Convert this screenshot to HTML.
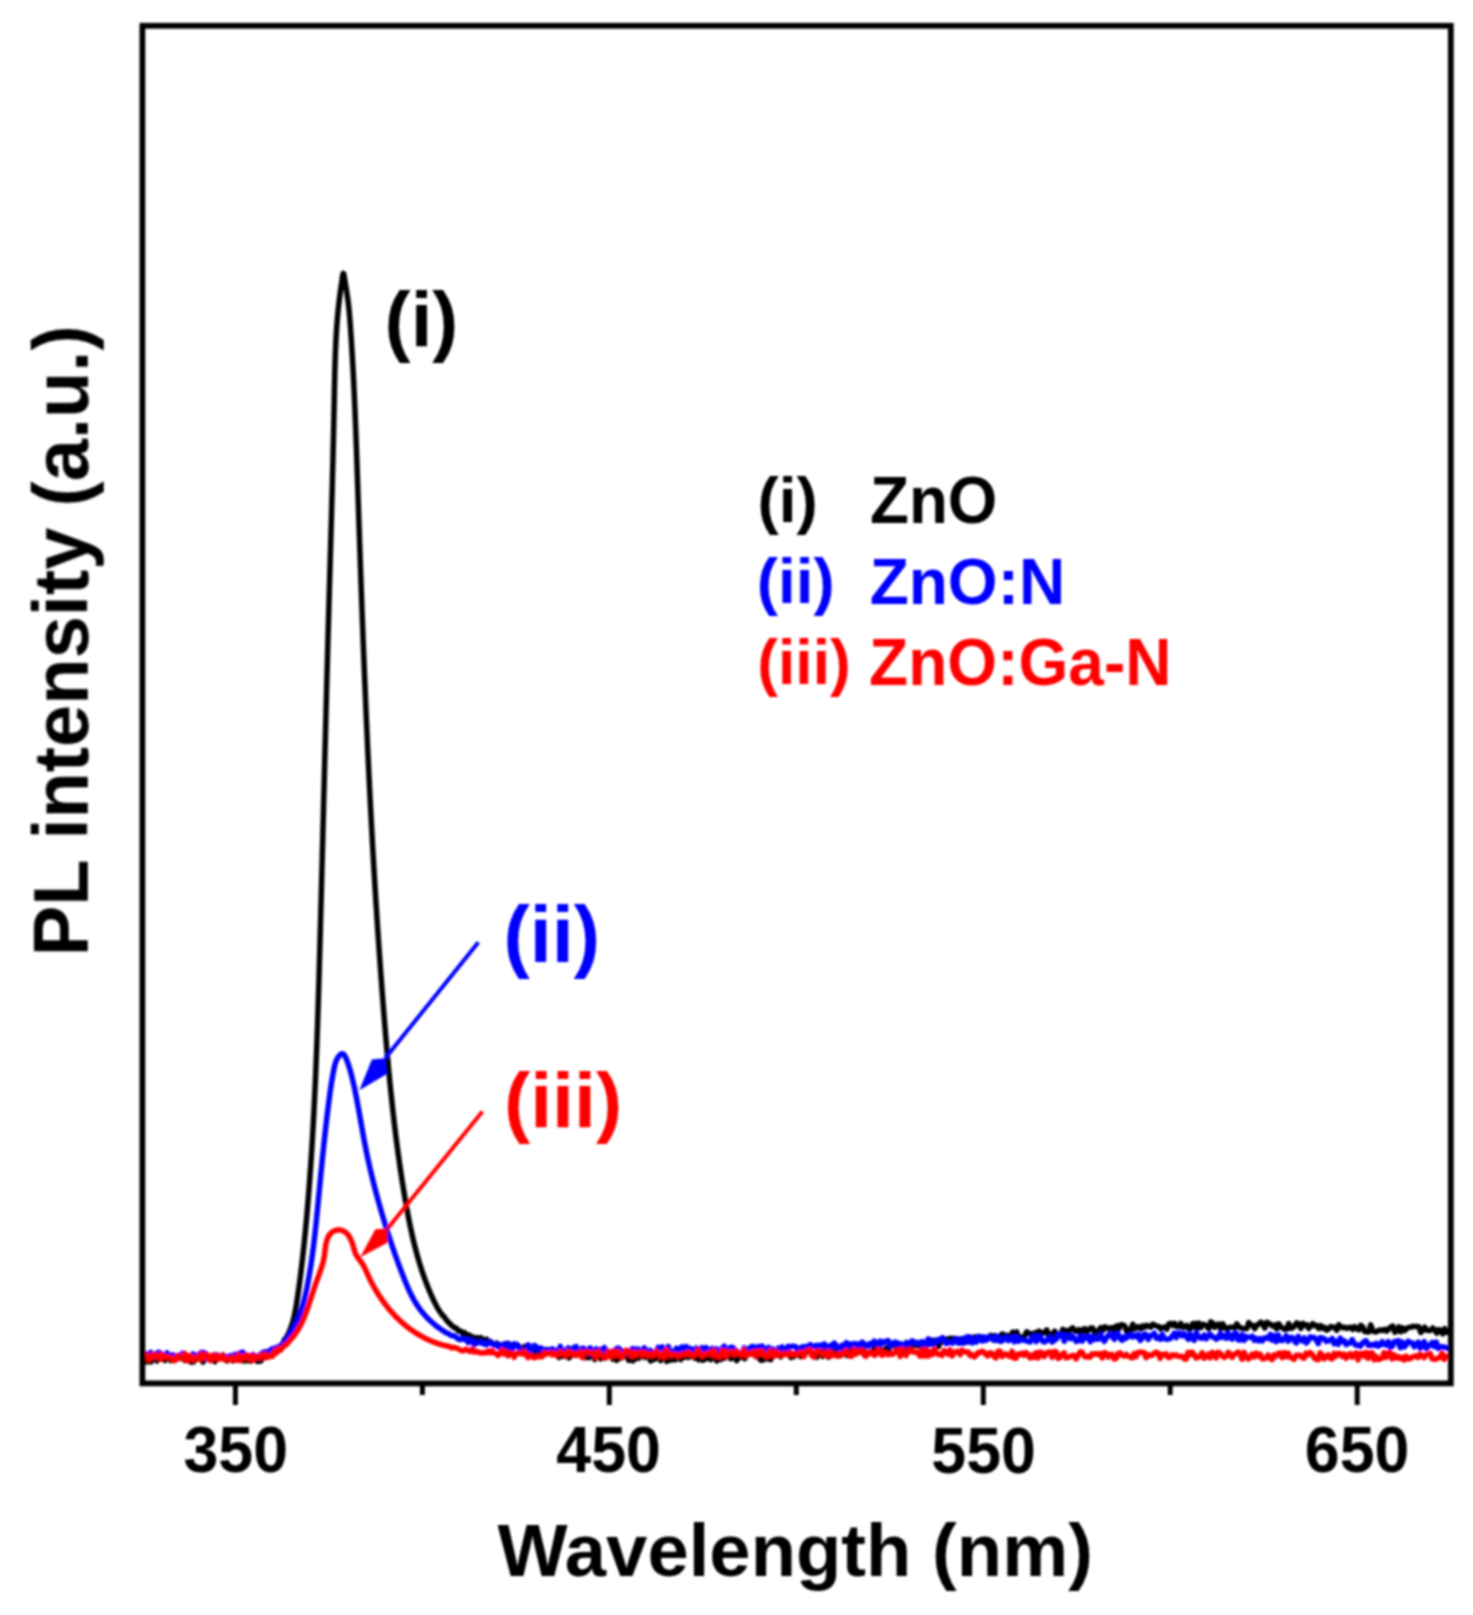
<!DOCTYPE html>
<html><head><meta charset="utf-8"><title>PL spectra</title>
<style>html,body{margin:0;padding:0;background:#fff;width:1473px;height:1615px;overflow:hidden}svg{display:block}</style>
</head><body>
<svg width="1473" height="1615" viewBox="0 0 1473 1615">
<defs><filter id="soft" x="0" y="0" width="1473" height="1615" filterUnits="userSpaceOnUse"><feGaussianBlur stdDeviation="1"/></filter></defs>
<rect width="1473" height="1615" fill="#fff"/>
<g filter="url(#soft)">
<g fill="none" stroke-linejoin="round" stroke-linecap="round">
<path d="M144.99,1358.64 L146.99,1361.94 L148.99,1355.79 L150.99,1361.88 L152.98,1357.02 L154.98,1357.86 L156.98,1360.93 L158.98,1357.74 L160.98,1358.81 L162.98,1354.84 L164.98,1360.36 L166.98,1358.73 L168.98,1357.16 L170.98,1360.66 L172.98,1356.98 L174.98,1358.14 L176.98,1355.72 L178.98,1357.78 L180.98,1356.27 L182.98,1356.74 L184.98,1360.46 L186.98,1356.90 L188.98,1358.46 L190.98,1362.24 L192.98,1362.10 L194.98,1360.30 L196.98,1358.90 L198.98,1356.89 L200.98,1356.00 L202.98,1362.14 L204.98,1358.68 L206.98,1355.62 L208.98,1359.45 L210.98,1360.59 L212.98,1359.31 L214.98,1361.58 L216.98,1354.88 L218.98,1358.55 L220.98,1357.99 L222.98,1354.94 L224.99,1359.31 L226.99,1360.90 L228.99,1358.91 L230.99,1356.38 L232.99,1360.80 L234.99,1358.31 L236.99,1358.36 L239.00,1360.25 L241.00,1355.73 L243.00,1360.92 L245.00,1359.99 L247.00,1360.87 L248.99,1356.43 L250.99,1361.12 L252.98,1356.48 L254.97,1355.60 L256.96,1361.36 L258.95,1361.19 L260.93,1360.99 L262.91,1357.46 L264.89,1355.36 L266.87,1352.57 L268.84,1356.50 L270.81,1355.88 L272.77,1355.17 L274.73,1350.21 L276.69,1348.33 L278.64,1348.44 L280.58,1346.76 L282.51,1344.54 L284.43,1339.74 L286.33,1337.37 L288.20,1334.13 L290.05,1329.73 L290.42,1328.80 L290.77,1327.88 L291.12,1326.94 L291.45,1326.01 L291.77,1325.07 L292.07,1324.13 L292.37,1323.18 L292.65,1322.23 L292.93,1321.28 L293.19,1320.33 L293.45,1319.37 L293.69,1318.41 L293.93,1317.45 L294.16,1316.48 L294.38,1315.52 L294.59,1314.55 L294.80,1313.57 L294.99,1312.60 L295.19,1311.63 L295.37,1310.65 L295.55,1309.67 L295.73,1308.69 L295.90,1307.71 L296.07,1306.73 L296.23,1305.75 L296.39,1304.76 L296.54,1303.78 L296.70,1302.79 L296.85,1301.81 L297.00,1300.82 L297.14,1299.83 L297.29,1298.85 L297.43,1297.86 L297.58,1296.87 L297.72,1295.88 L297.86,1294.89 L298.01,1293.91 L298.15,1292.92 L298.29,1291.93 L298.43,1290.94 L298.56,1289.95 L298.70,1288.96 L298.84,1287.97 L298.97,1286.98 L299.11,1285.99 L299.24,1285.00 L299.37,1284.01 L299.51,1283.02 L299.64,1282.03 L299.77,1281.04 L299.90,1280.05 L300.03,1279.06 L300.16,1278.07 L300.28,1277.08 L300.41,1276.09 L300.54,1275.10 L300.66,1274.11 L300.78,1273.11 L300.91,1272.12 L301.03,1271.13 L301.15,1270.14 L301.27,1269.15 L301.39,1268.15 L301.51,1267.16 L301.63,1266.17 L301.75,1265.18 L301.87,1264.18 L301.98,1263.19 L302.10,1262.20 L302.22,1261.20 L302.33,1260.21 L302.44,1259.22 L302.56,1258.22 L302.67,1257.23 L302.78,1256.23 L302.89,1255.24 L303.00,1254.25 L303.11,1253.25 L303.22,1252.26 L303.33,1251.26 L303.44,1250.27 L303.55,1249.27 L303.65,1248.28 L303.76,1247.29 L303.86,1246.29 L303.97,1245.30 L304.07,1244.30 L304.17,1243.30 L304.28,1242.31 L304.38,1241.31 L304.48,1240.32 L304.58,1239.32 L304.68,1238.33 L304.78,1237.33 L304.88,1236.34 L304.98,1235.34 L305.08,1234.34 L305.17,1233.35 L305.27,1232.35 L305.37,1231.36 L305.46,1230.36 L305.56,1229.36 L305.65,1228.37 L305.74,1227.37 L305.84,1226.37 L305.93,1225.38 L306.02,1224.38 L306.12,1223.38 L306.21,1222.39 L306.30,1221.39 L306.39,1220.39 L306.48,1219.40 L306.57,1218.40 L306.66,1217.40 L306.74,1216.41 L306.83,1215.41 L306.92,1214.41 L307.01,1213.41 L307.09,1212.42 L307.18,1211.42 L307.26,1210.42 L307.35,1209.43 L307.43,1208.43 L307.52,1207.43 L307.60,1206.43 L307.68,1205.44 L307.77,1204.44 L307.85,1203.44 L307.93,1202.44 L308.01,1201.45 L308.10,1200.45 L308.18,1199.45 L308.26,1198.45 L308.34,1197.46 L308.42,1196.46 L308.50,1195.46 L308.57,1194.46 L308.65,1193.47 L308.73,1192.47 L308.81,1191.47 L308.89,1190.47 L308.96,1189.48 L309.04,1188.48 L309.12,1187.48 L309.19,1186.48 L309.27,1185.49 L309.34,1184.49 L309.42,1183.49 L309.49,1182.49 L309.57,1181.50 L309.64,1180.50 L309.71,1179.50 L309.78,1178.50 L309.86,1177.50 L309.93,1176.51 L310.00,1175.51 L310.07,1174.51 L310.14,1173.51 L310.21,1172.52 L310.28,1171.52 L310.35,1170.52 L310.42,1169.52 L310.49,1168.52 L310.56,1167.53 L310.63,1166.53 L310.70,1165.53 L310.77,1164.53 L310.83,1163.54 L310.90,1162.54 L310.97,1161.54 L311.04,1160.54 L311.10,1159.54 L311.17,1158.55 L311.23,1157.55 L311.30,1156.55 L311.36,1155.55 L311.43,1154.55 L311.49,1153.56 L311.56,1152.56 L311.62,1151.56 L311.68,1150.56 L311.74,1149.56 L311.81,1148.57 L311.87,1147.57 L311.93,1146.57 L311.99,1145.57 L312.05,1144.57 L312.12,1143.58 L312.18,1142.58 L312.24,1141.58 L312.30,1140.58 L312.36,1139.58 L312.42,1138.59 L312.47,1137.59 L312.53,1136.59 L312.59,1135.59 L312.65,1134.59 L312.71,1133.59 L312.77,1132.60 L312.82,1131.60 L312.88,1130.60 L312.94,1129.60 L312.99,1128.60 L313.05,1127.61 L313.10,1126.61 L313.16,1125.61 L313.22,1124.61 L313.27,1123.61 L313.33,1122.61 L313.38,1121.62 L313.43,1120.62 L313.49,1119.62 L313.54,1118.62 L313.59,1117.62 L313.65,1116.62 L313.70,1115.63 L313.75,1114.63 L313.80,1113.63 L313.86,1112.63 L313.91,1111.63 L313.96,1110.63 L314.01,1109.64 L314.06,1108.64 L314.11,1107.64 L314.16,1106.64 L314.21,1105.64 L314.26,1104.64 L314.31,1103.65 L314.36,1102.65 L314.41,1101.65 L314.46,1100.65 L314.51,1099.65 L314.56,1098.65 L314.60,1097.65 L314.65,1096.66 L314.70,1095.66 L314.75,1094.66 L314.79,1093.66 L314.84,1092.66 L314.89,1091.66 L314.93,1090.66 L314.98,1089.67 L315.03,1088.67 L315.07,1087.67 L315.12,1086.67 L315.16,1085.67 L315.21,1084.67 L315.25,1083.67 L315.30,1082.68 L315.34,1081.68 L315.38,1080.68 L315.43,1079.68 L315.47,1078.68 L315.52,1077.68 L315.56,1076.68 L315.60,1075.69 L315.64,1074.69 L315.69,1073.69 L315.73,1072.69 L315.77,1071.69 L315.81,1070.69 L315.85,1069.69 L315.90,1068.69 L315.94,1067.70 L315.98,1066.70 L316.02,1065.70 L316.06,1064.70 L316.10,1063.70 L316.14,1062.70 L316.18,1061.70 L316.22,1060.70 L316.26,1059.71 L316.30,1058.71 L316.34,1057.71 L316.38,1056.71 L316.42,1055.71 L316.46,1054.71 L316.50,1053.71 L316.53,1052.71 L316.57,1051.71 L316.61,1050.72 L316.65,1049.72 L316.69,1048.72 L316.72,1047.72 L316.76,1046.72 L316.80,1045.72 L316.83,1044.72 L316.87,1043.72 L316.91,1042.72 L316.94,1041.73 L316.98,1040.73 L317.02,1039.73 L317.05,1038.73 L317.09,1037.73 L317.12,1036.73 L317.16,1035.73 L317.20,1034.73 L317.23,1033.73 L317.27,1032.73 L317.30,1031.74 L317.34,1030.74 L317.37,1029.74 L317.40,1028.74 L317.44,1027.74 L317.47,1026.74 L317.51,1025.74 L317.54,1024.74 L317.58,1023.74 L317.61,1022.74 L317.64,1021.74 L317.68,1020.75 L317.71,1019.75 L317.74,1018.75 L317.77,1017.75 L317.81,1016.75 L317.84,1015.75 L317.87,1014.75 L317.91,1013.75 L317.94,1012.75 L317.97,1011.75 L318.00,1010.75 L318.03,1009.76 L318.07,1008.76 L318.10,1007.76 L318.13,1006.76 L318.16,1005.76 L318.19,1004.76 L318.22,1003.76 L318.25,1002.76 L318.29,1001.76 L318.32,1000.76 L318.35,999.76 L318.38,998.76 L318.41,997.77 L318.44,996.77 L318.47,995.77 L318.50,994.77 L318.53,993.77 L318.56,992.77 L318.59,991.77 L318.62,990.77 L318.65,989.77 L318.68,988.77 L318.71,987.77 L318.74,986.77 L318.77,985.77 L318.80,984.77 L318.83,983.78 L318.86,982.78 L318.89,981.78 L318.92,980.78 L318.94,979.78 L318.97,978.78 L319.00,977.78 L319.03,976.78 L319.06,975.78 L319.09,974.78 L319.12,973.78 L319.15,972.78 L319.17,971.78 L319.20,970.78 L319.23,969.78 L319.26,968.79 L319.29,967.79 L319.32,966.79 L319.34,965.79 L319.37,964.79 L319.40,963.79 L319.43,962.79 L319.46,961.79 L319.48,960.79 L319.51,959.79 L319.54,958.79 L319.57,957.79 L319.60,956.79 L319.62,955.79 L319.65,954.79 L319.68,953.79 L319.71,952.79 L319.73,951.79 L319.76,950.80 L319.79,949.80 L319.82,948.80 L319.84,947.80 L319.87,946.80 L319.90,945.80 L319.93,944.80 L319.95,943.80 L319.98,942.80 L320.01,941.80 L320.04,940.80 L320.06,939.80 L320.09,938.80 L320.12,937.80 L320.14,936.80 L320.17,935.80 L320.20,934.80 L320.23,933.80 L320.25,932.80 L320.28,931.80 L320.31,930.80 L320.33,929.81 L320.36,928.81 L320.39,927.81 L320.42,926.81 L320.44,925.81 L320.47,924.81 L320.50,923.81 L320.52,922.81 L320.55,921.81 L320.58,920.81 L320.60,919.81 L320.63,918.81 L320.66,917.81 L320.68,916.81 L320.71,915.81 L320.74,914.81 L320.76,913.81 L320.79,912.81 L320.82,911.81 L320.84,910.81 L320.87,909.81 L320.90,908.81 L320.93,907.81 L320.95,906.81 L320.98,905.81 L321.00,904.81 L321.03,903.82 L321.06,902.82 L321.08,901.82 L321.11,900.82 L321.14,899.82 L321.16,898.82 L321.19,897.82 L321.22,896.82 L321.24,895.82 L321.27,894.82 L321.30,893.82 L321.32,892.82 L321.35,891.82 L321.38,890.82 L321.40,889.82 L321.43,888.82 L321.46,887.82 L321.48,886.82 L321.51,885.82 L321.53,884.82 L321.56,883.82 L321.59,882.82 L321.61,881.82 L321.64,880.82 L321.67,879.82 L321.69,878.82 L321.72,877.82 L321.74,876.82 L321.77,875.82 L321.80,874.82 L321.82,873.82 L321.85,872.82 L321.88,871.82 L321.90,870.82 L321.93,869.82 L321.95,868.83 L321.98,867.83 L322.01,866.83 L322.03,865.83 L322.06,864.83 L322.09,863.83 L322.11,862.83 L322.14,861.83 L322.16,860.83 L322.19,859.83 L322.22,858.83 L322.24,857.83 L322.27,856.83 L322.29,855.83 L322.32,854.83 L322.35,853.83 L322.37,852.83 L322.40,851.83 L322.42,850.83 L322.45,849.83 L322.48,848.83 L322.50,847.83 L322.53,846.83 L322.55,845.83 L322.58,844.83 L322.61,843.83 L322.63,842.83 L322.66,841.83 L322.68,840.83 L322.71,839.83 L322.74,838.83 L322.76,837.83 L322.79,836.83 L322.81,835.83 L322.84,834.83 L322.86,833.83 L322.89,832.83 L322.92,831.83 L322.94,830.83 L322.97,829.83 L322.99,828.83 L323.02,827.83 L323.05,826.83 L323.07,825.83 L323.10,824.83 L323.12,823.83 L323.15,822.83 L323.17,821.83 L323.20,820.83 L323.23,819.83 L323.25,818.83 L323.28,817.84 L323.30,816.84 L323.33,815.84 L323.36,814.84 L323.38,813.84 L323.41,812.84 L323.43,811.84 L323.46,810.84 L323.48,809.84 L323.51,808.84 L323.54,807.84 L323.56,806.84 L323.59,805.84 L323.61,804.84 L323.64,803.84 L323.67,802.84 L323.69,801.84 L323.72,800.84 L323.74,799.84 L323.77,798.84 L323.79,797.84 L323.82,796.84 L323.85,795.84 L323.87,794.84 L323.90,793.84 L323.92,792.84 L323.95,791.84 L323.97,790.84 L324.00,789.84 L324.03,788.84 L324.05,787.84 L324.08,786.84 L324.10,785.84 L324.13,784.84 L324.16,783.84 L324.18,782.84 L324.21,781.84 L324.23,780.84 L324.26,779.84 L324.28,778.84 L324.31,777.84 L324.34,776.84 L324.36,775.84 L324.39,774.84 L324.41,773.84 L324.44,772.84 L324.46,771.84 L324.49,770.84 L324.52,769.84 L324.54,768.84 L324.57,767.84 L324.59,766.84 L324.62,765.84 L324.65,764.84 L324.67,763.84 L324.70,762.84 L324.72,761.84 L324.75,760.84 L324.78,759.84 L324.80,758.84 L324.83,757.84 L324.85,756.84 L324.88,755.84 L324.90,754.84 L324.93,753.84 L324.96,752.84 L324.98,751.84 L325.01,750.85 L325.03,749.85 L325.06,748.85 L325.09,747.85 L325.11,746.85 L325.14,745.85 L325.16,744.85 L325.19,743.85 L325.22,742.85 L325.24,741.85 L325.27,740.85 L325.29,739.85 L325.32,738.85 L325.35,737.85 L325.37,736.85 L325.40,735.85 L325.42,734.85 L325.45,733.85 L325.48,732.85 L325.50,731.85 L325.53,730.85 L325.55,729.85 L325.58,728.85 L325.61,727.85 L325.63,726.85 L325.66,725.85 L325.68,724.85 L325.71,723.85 L325.74,722.85 L325.76,721.85 L325.79,720.85 L325.82,719.85 L325.84,718.85 L325.87,717.85 L325.89,716.85 L325.92,715.85 L325.95,714.85 L325.97,713.85 L326.00,712.85 L326.03,711.85 L326.05,710.85 L326.08,709.85 L326.10,708.85 L326.13,707.85 L326.16,706.85 L326.18,705.85 L326.21,704.85 L326.24,703.85 L326.26,702.85 L326.29,701.85 L326.32,700.85 L326.34,699.86 L326.37,698.86 L326.39,697.86 L326.42,696.86 L326.45,695.86 L326.47,694.86 L326.50,693.86 L326.53,692.86 L326.55,691.86 L326.58,690.86 L326.61,689.86 L326.63,688.86 L326.66,687.86 L326.69,686.86 L326.71,685.86 L326.74,684.86 L326.77,683.86 L326.79,682.86 L326.82,681.86 L326.85,680.86 L326.87,679.86 L326.90,678.86 L326.93,677.86 L326.95,676.86 L326.98,675.86 L327.01,674.86 L327.03,673.86 L327.06,672.86 L327.09,671.86 L327.11,670.86 L327.14,669.86 L327.17,668.86 L327.20,667.86 L327.22,666.86 L327.25,665.87 L327.28,664.87 L327.30,663.87 L327.33,662.87 L327.36,661.87 L327.38,660.87 L327.41,659.87 L327.44,658.87 L327.47,657.87 L327.49,656.87 L327.52,655.87 L327.55,654.87 L327.57,653.87 L327.60,652.87 L327.63,651.87 L327.66,650.87 L327.68,649.87 L327.71,648.87 L327.74,647.87 L327.77,646.87 L327.79,645.87 L327.82,644.87 L327.85,643.87 L327.87,642.87 L327.90,641.87 L327.93,640.87 L327.96,639.88 L327.98,638.88 L328.01,637.88 L328.04,636.88 L328.07,635.88 L328.10,634.88 L328.12,633.88 L328.15,632.88 L328.18,631.88 L328.21,630.88 L328.23,629.88 L328.26,628.88 L328.29,627.88 L328.32,626.88 L328.34,625.88 L328.37,624.88 L328.40,623.88 L328.43,622.88 L328.46,621.88 L328.48,620.88 L328.51,619.88 L328.54,618.89 L328.57,617.89 L328.60,616.89 L328.62,615.89 L328.65,614.89 L328.68,613.89 L328.71,612.89 L328.74,611.89 L328.76,610.89 L328.79,609.89 L328.82,608.89 L328.85,607.89 L328.88,606.89 L328.91,605.89 L328.93,604.89 L328.96,603.89 L328.99,602.89 L329.02,601.90 L329.05,600.90 L329.08,599.90 L329.10,598.90 L329.13,597.90 L329.16,596.90 L329.19,595.90 L329.22,594.90 L329.25,593.90 L329.28,592.90 L329.30,591.90 L329.33,590.90 L329.36,589.90 L329.39,588.90 L329.42,587.90 L329.45,586.90 L329.48,585.91 L329.50,584.91 L329.53,583.91 L329.56,582.91 L329.59,581.91 L329.62,580.91 L329.65,579.91 L329.68,578.91 L329.70,577.91 L329.73,576.91 L329.76,575.91 L329.79,574.91 L329.82,573.91 L329.85,572.91 L329.88,571.91 L329.90,570.92 L329.93,569.92 L329.96,568.92 L329.99,567.92 L330.02,566.92 L330.05,565.92 L330.08,564.92 L330.10,563.92 L330.13,562.92 L330.16,561.92 L330.19,560.92 L330.22,559.92 L330.25,558.92 L330.28,557.92 L330.30,556.92 L330.33,555.93 L330.36,554.93 L330.39,553.93 L330.42,552.93 L330.45,551.93 L330.48,550.93 L330.50,549.93 L330.53,548.93 L330.56,547.93 L330.59,546.93 L330.62,545.93 L330.65,544.93 L330.67,543.93 L330.70,542.93 L330.73,541.93 L330.76,540.94 L330.79,539.94 L330.82,538.94 L330.84,537.94 L330.87,536.94 L330.90,535.94 L330.93,534.94 L330.96,533.94 L330.98,532.94 L331.01,531.94 L331.04,530.94 L331.07,529.94 L331.10,528.94 L331.12,527.94 L331.15,526.94 L331.18,525.94 L331.21,524.95 L331.24,523.95 L331.26,522.95 L331.29,521.95 L331.32,520.95 L331.35,519.95 L331.38,518.95 L331.40,517.95 L331.43,516.95 L331.46,515.95 L331.49,514.95 L331.51,513.95 L331.54,512.95 L331.57,511.95 L331.60,510.95 L331.62,509.95 L331.65,508.96 L331.68,507.96 L331.70,506.96 L331.73,505.96 L331.76,504.96 L331.79,503.96 L331.81,502.96 L331.84,501.96 L331.87,500.96 L331.89,499.96 L331.92,498.96 L331.95,497.96 L331.97,496.96 L332.00,495.96 L332.03,494.96 L332.05,493.96 L332.08,492.96 L332.11,491.96 L332.13,490.96 L332.16,489.96 L332.19,488.97 L332.21,487.97 L332.24,486.97 L332.27,485.97 L332.29,484.97 L332.32,483.97 L332.34,482.97 L332.37,481.97 L332.40,480.97 L332.42,479.97 L332.45,478.97 L332.47,477.97 L332.50,476.97 L332.52,475.97 L332.55,474.97 L332.58,473.97 L332.60,472.97 L332.63,471.97 L332.65,470.97 L332.68,469.97 L332.70,468.97 L332.73,467.97 L332.75,466.97 L332.78,465.97 L332.80,464.97 L332.83,463.97 L332.85,462.97 L332.88,461.97 L332.90,460.98 L332.93,459.98 L332.95,458.98 L332.97,457.98 L333.00,456.98 L333.02,455.98 L333.05,454.98 L333.07,453.98 L333.10,452.98 L333.12,451.98 L333.14,450.98 L333.17,449.98 L333.19,448.98 L333.21,447.98 L333.24,446.98 L333.26,445.98 L333.28,444.98 L333.31,443.98 L333.33,442.98 L333.35,441.98 L333.38,440.98 L333.40,439.98 L333.42,438.98 L333.45,437.98 L333.47,436.98 L333.49,435.98 L333.51,434.98 L333.54,433.98 L333.56,432.98 L333.58,431.98 L333.60,430.98 L333.63,429.98 L333.65,428.98 L333.67,427.98 L333.69,426.98 L333.71,425.98 L333.74,424.98 L333.76,423.98 L333.78,422.98 L333.80,421.98 L333.82,420.98 L333.84,419.98 L333.86,418.98 L333.88,417.98 L333.91,416.98 L333.93,415.98 L333.95,414.98 L333.97,413.98 L333.99,412.97 L334.01,411.97 L334.03,410.97 L334.05,409.97 L334.07,408.97 L334.09,407.97 L334.11,406.97 L334.13,405.97 L334.15,404.97 L334.17,403.97 L334.19,402.97 L334.21,401.97 L334.23,400.97 L334.24,399.97 L334.26,398.97 L334.28,397.97 L334.30,396.97 L334.32,395.97 L334.34,394.97 L334.36,393.97 L334.38,392.97 L334.40,391.97 L334.41,390.97 L334.43,389.97 L334.45,388.96 L334.47,387.96 L334.49,386.96 L334.51,385.96 L334.53,384.96 L334.55,383.96 L334.57,382.96 L334.59,381.96 L334.61,380.96 L334.63,379.96 L334.65,378.96 L334.68,377.96 L334.70,376.96 L334.72,375.96 L334.74,374.96 L334.77,373.96 L334.79,372.96 L334.81,371.96 L334.84,370.96 L334.86,369.96 L334.89,368.96 L334.92,367.96 L334.94,366.96 L334.97,365.96 L335.00,364.96 L335.03,363.96 L335.06,362.96 L335.09,361.97 L335.12,360.97 L335.15,359.97 L335.18,358.97 L335.22,357.97 L335.25,356.97 L335.29,355.97 L335.32,354.97 L335.36,353.97 L335.39,352.98 L335.43,351.98 L335.47,350.98 L335.51,349.98 L335.55,348.98 L335.60,347.98 L335.64,346.99 L335.68,345.99 L335.73,344.99 L335.78,343.99 L335.82,343.00 L335.87,342.00 L335.92,341.00 L335.97,340.01 L336.02,339.01 L336.08,338.01 L336.13,337.02 L336.19,336.02 L336.25,335.02 L336.30,334.03 L336.36,333.03 L336.42,332.04 L336.49,331.04 L336.55,330.04 L336.62,329.05 L336.68,328.05 L336.75,327.06 L336.82,326.06 L336.89,325.07 L336.96,324.08 L337.04,323.08 L337.11,322.09 L337.19,321.10 L337.27,320.10 L337.35,319.11 L337.43,318.12 L337.52,317.13 L337.60,316.14 L337.69,315.15 L337.78,314.16 L337.87,313.17 L337.96,312.19 L338.06,311.20 L338.15,310.21 L338.25,309.23 L338.35,308.25 L338.45,307.26 L338.56,306.28 L338.66,305.30 L338.77,304.32 L338.88,303.34 L338.99,302.37 L339.10,301.39 L339.22,300.42 L339.34,299.44 L339.46,298.47 L339.58,297.50 L339.70,296.53 L339.83,295.56 L339.96,294.60 L340.09,293.63 L340.22,292.67 L340.35,291.71 L340.49,290.75 L340.63,289.79 L340.77,288.83 L340.92,287.86 L341.06,286.88 L341.21,285.87 L341.37,284.83 L341.52,283.76 L341.68,282.64 L341.84,281.48 L342.01,280.25 L342.18,278.97 L342.35,277.67 L342.53,276.43 L342.72,275.31 L342.90,274.39 L343.09,273.74 L343.29,273.43 L343.49,273.52 L343.70,273.99 L343.90,274.77 L344.11,275.78 L344.32,276.97 L344.53,278.25 L344.73,279.55 L344.93,280.83 L345.12,282.04 L345.31,283.21 L345.50,284.33 L345.68,285.42 L345.85,286.47 L346.03,287.49 L346.19,288.50 L346.36,289.48 L346.52,290.45 L346.67,291.42 L346.82,292.38 L346.97,293.34 L347.12,294.30 L347.26,295.25 L347.39,296.20 L347.53,297.14 L347.66,298.09 L347.79,299.03 L347.91,299.97 L348.03,300.91 L348.15,301.85 L348.26,302.80 L348.38,303.74 L348.49,304.68 L348.59,305.63 L348.70,306.58 L348.80,307.53 L348.90,308.48 L349.00,309.44 L349.09,310.40 L349.18,311.37 L349.28,312.34 L349.36,313.31 L349.45,314.29 L349.54,315.27 L349.62,316.25 L349.70,317.24 L349.78,318.23 L349.86,319.22 L349.94,320.21 L350.02,321.21 L350.09,322.20 L350.17,323.20 L350.24,324.20 L350.31,325.20 L350.38,326.20 L350.45,327.20 L350.52,328.20 L350.59,329.20 L350.66,330.21 L350.73,331.21 L350.80,332.21 L350.87,333.21 L350.94,334.21 L351.00,335.22 L351.07,336.22 L351.14,337.22 L351.20,338.22 L351.27,339.22 L351.33,340.22 L351.40,341.23 L351.46,342.23 L351.52,343.23 L351.59,344.23 L351.65,345.23 L351.71,346.23 L351.77,347.23 L351.83,348.23 L351.89,349.24 L351.96,350.24 L352.02,351.24 L352.08,352.24 L352.13,353.24 L352.19,354.24 L352.25,355.24 L352.31,356.24 L352.37,357.24 L352.43,358.25 L352.48,359.25 L352.54,360.25 L352.60,361.25 L352.65,362.25 L352.71,363.25 L352.76,364.25 L352.82,365.25 L352.87,366.25 L352.93,367.25 L352.98,368.25 L353.03,369.25 L353.09,370.25 L353.14,371.25 L353.19,372.26 L353.24,373.26 L353.30,374.26 L353.35,375.26 L353.40,376.26 L353.45,377.26 L353.50,378.26 L353.55,379.26 L353.60,380.26 L353.65,381.26 L353.70,382.26 L353.75,383.26 L353.80,384.26 L353.85,385.26 L353.89,386.26 L353.94,387.26 L353.99,388.26 L354.04,389.26 L354.08,390.26 L354.13,391.26 L354.18,392.26 L354.22,393.26 L354.27,394.26 L354.31,395.26 L354.36,396.26 L354.40,397.26 L354.45,398.26 L354.49,399.26 L354.54,400.26 L354.58,401.26 L354.63,402.26 L354.67,403.26 L354.71,404.26 L354.76,405.26 L354.80,406.26 L354.84,407.26 L354.88,408.26 L354.93,409.25 L354.97,410.25 L355.01,411.25 L355.05,412.25 L355.09,413.25 L355.13,414.25 L355.17,415.25 L355.21,416.25 L355.25,417.25 L355.29,418.25 L355.33,419.25 L355.37,420.25 L355.41,421.25 L355.45,422.25 L355.49,423.25 L355.53,424.25 L355.57,425.25 L355.61,426.24 L355.65,427.24 L355.69,428.24 L355.72,429.24 L355.76,430.24 L355.80,431.24 L355.84,432.24 L355.87,433.24 L355.91,434.24 L355.95,435.24 L355.99,436.24 L356.02,437.24 L356.06,438.24 L356.10,439.23 L356.13,440.23 L356.17,441.23 L356.21,442.23 L356.24,443.23 L356.28,444.23 L356.31,445.23 L356.35,446.23 L356.38,447.23 L356.42,448.23 L356.46,449.23 L356.49,450.22 L356.53,451.22 L356.56,452.22 L356.60,453.22 L356.63,454.22 L356.67,455.22 L356.70,456.22 L356.73,457.22 L356.77,458.22 L356.80,459.22 L356.84,460.21 L356.87,461.21 L356.91,462.21 L356.94,463.21 L356.97,464.21 L357.01,465.21 L357.04,466.21 L357.08,467.21 L357.11,468.21 L357.14,469.20 L357.18,470.20 L357.21,471.20 L357.25,472.20 L357.28,473.20 L357.31,474.20 L357.35,475.20 L357.38,476.20 L357.41,477.20 L357.45,478.19 L357.48,479.19 L357.51,480.19 L357.55,481.19 L357.58,482.19 L357.61,483.19 L357.65,484.19 L357.68,485.19 L357.71,486.19 L357.75,487.19 L357.78,488.18 L357.81,489.18 L357.85,490.18 L357.88,491.18 L357.91,492.18 L357.95,493.18 L357.98,494.18 L358.01,495.18 L358.05,496.18 L358.08,497.17 L358.11,498.17 L358.15,499.17 L358.18,500.17 L358.22,501.17 L358.25,502.17 L358.28,503.17 L358.32,504.17 L358.35,505.17 L358.38,506.17 L358.42,507.16 L358.45,508.16 L358.48,509.16 L358.52,510.16 L358.55,511.16 L358.59,512.16 L358.62,513.16 L358.65,514.16 L358.69,515.16 L358.72,516.16 L358.75,517.15 L358.79,518.15 L358.82,519.15 L358.86,520.15 L358.89,521.15 L358.92,522.15 L358.96,523.15 L358.99,524.15 L359.02,525.15 L359.06,526.15 L359.09,527.14 L359.13,528.14 L359.16,529.14 L359.19,530.14 L359.23,531.14 L359.26,532.14 L359.30,533.14 L359.33,534.14 L359.37,535.14 L359.40,536.14 L359.43,537.13 L359.47,538.13 L359.50,539.13 L359.54,540.13 L359.57,541.13 L359.61,542.13 L359.64,543.13 L359.67,544.13 L359.71,545.13 L359.74,546.13 L359.78,547.13 L359.81,548.12 L359.85,549.12 L359.88,550.12 L359.92,551.12 L359.95,552.12 L359.98,553.12 L360.02,554.12 L360.05,555.12 L360.09,556.12 L360.12,557.12 L360.16,558.12 L360.19,559.11 L360.23,560.11 L360.26,561.11 L360.30,562.11 L360.33,563.11 L360.37,564.11 L360.40,565.11 L360.44,566.11 L360.47,567.11 L360.51,568.11 L360.54,569.11 L360.58,570.10 L360.61,571.10 L360.65,572.10 L360.68,573.10 L360.72,574.10 L360.75,575.10 L360.79,576.10 L360.83,577.10 L360.86,578.10 L360.90,579.10 L360.93,580.10 L360.97,581.09 L361.00,582.09 L361.04,583.09 L361.07,584.09 L361.11,585.09 L361.15,586.09 L361.18,587.09 L361.22,588.09 L361.25,589.09 L361.29,590.09 L361.33,591.09 L361.36,592.09 L361.40,593.08 L361.43,594.08 L361.47,595.08 L361.51,596.08 L361.54,597.08 L361.58,598.08 L361.61,599.08 L361.65,600.08 L361.69,601.08 L361.72,602.08 L361.76,603.08 L361.80,604.07 L361.83,605.07 L361.87,606.07 L361.91,607.07 L361.94,608.07 L361.98,609.07 L362.02,610.07 L362.05,611.07 L362.09,612.07 L362.13,613.07 L362.16,614.07 L362.20,615.07 L362.24,616.06 L362.28,617.06 L362.31,618.06 L362.35,619.06 L362.39,620.06 L362.42,621.06 L362.46,622.06 L362.50,623.06 L362.54,624.06 L362.57,625.06 L362.61,626.06 L362.65,627.05 L362.69,628.05 L362.72,629.05 L362.76,630.05 L362.80,631.05 L362.84,632.05 L362.88,633.05 L362.91,634.05 L362.95,635.05 L362.99,636.05 L363.03,637.05 L363.07,638.05 L363.10,639.04 L363.14,640.04 L363.18,641.04 L363.22,642.04 L363.26,643.04 L363.30,644.04 L363.33,645.04 L363.37,646.04 L363.41,647.04 L363.45,648.04 L363.49,649.04 L363.53,650.03 L363.57,651.03 L363.61,652.03 L363.65,653.03 L363.68,654.03 L363.72,655.03 L363.76,656.03 L363.80,657.03 L363.84,658.03 L363.88,659.03 L363.92,660.03 L363.96,661.03 L364.00,662.02 L364.04,663.02 L364.08,664.02 L364.12,665.02 L364.16,666.02 L364.20,667.02 L364.24,668.02 L364.28,669.02 L364.32,670.02 L364.36,671.02 L364.40,672.02 L364.44,673.01 L364.48,674.01 L364.52,675.01 L364.56,676.01 L364.60,677.01 L364.64,678.01 L364.68,679.01 L364.72,680.01 L364.76,681.01 L364.80,682.01 L364.84,683.01 L364.89,684.00 L364.93,685.00 L364.97,686.00 L365.01,687.00 L365.05,688.00 L365.09,689.00 L365.13,690.00 L365.17,691.00 L365.22,692.00 L365.26,693.00 L365.30,694.00 L365.34,694.99 L365.38,695.99 L365.42,696.99 L365.47,697.99 L365.51,698.99 L365.55,699.99 L365.59,700.99 L365.64,701.99 L365.68,702.99 L365.72,703.99 L365.76,704.98 L365.80,705.98 L365.85,706.98 L365.89,707.98 L365.93,708.98 L365.98,709.98 L366.02,710.98 L366.06,711.98 L366.10,712.98 L366.15,713.98 L366.19,714.97 L366.23,715.97 L366.28,716.97 L366.32,717.97 L366.36,718.97 L366.41,719.97 L366.45,720.97 L366.50,721.97 L366.54,722.97 L366.58,723.97 L366.63,724.96 L366.67,725.96 L366.72,726.96 L366.76,727.96 L366.80,728.96 L366.85,729.96 L366.89,730.96 L366.94,731.96 L366.98,732.96 L367.03,733.96 L367.07,734.95 L367.12,735.95 L367.16,736.95 L367.21,737.95 L367.25,738.95 L367.30,739.95 L367.34,740.95 L367.39,741.95 L367.43,742.95 L367.48,743.95 L367.52,744.94 L367.57,745.94 L367.62,746.94 L367.66,747.94 L367.71,748.94 L367.75,749.94 L367.80,750.94 L367.85,751.94 L367.89,752.94 L367.94,753.93 L367.99,754.93 L368.03,755.93 L368.08,756.93 L368.13,757.93 L368.17,758.93 L368.22,759.93 L368.27,760.93 L368.31,761.93 L368.36,762.92 L368.41,763.92 L368.46,764.92 L368.50,765.92 L368.55,766.92 L368.60,767.92 L368.65,768.92 L368.69,769.92 L368.74,770.91 L368.79,771.91 L368.84,772.91 L368.89,773.91 L368.93,774.91 L368.98,775.91 L369.03,776.91 L369.08,777.91 L369.13,778.91 L369.18,779.90 L369.23,780.90 L369.28,781.90 L369.32,782.90 L369.37,783.90 L369.42,784.90 L369.47,785.90 L369.52,786.90 L369.57,787.89 L369.62,788.89 L369.67,789.89 L369.72,790.89 L369.77,791.89 L369.82,792.89 L369.87,793.89 L369.92,794.89 L369.97,795.88 L370.02,796.88 L370.07,797.88 L370.12,798.88 L370.17,799.88 L370.23,800.88 L370.28,801.88 L370.33,802.88 L370.38,803.87 L370.43,804.87 L370.48,805.87 L370.53,806.87 L370.58,807.87 L370.64,808.87 L370.69,809.87 L370.74,810.87 L370.79,811.86 L370.84,812.86 L370.90,813.86 L370.95,814.86 L371.00,815.86 L371.05,816.86 L371.11,817.86 L371.16,818.85 L371.21,819.85 L371.27,820.85 L371.32,821.85 L371.37,822.85 L371.43,823.85 L371.48,824.85 L371.53,825.84 L371.59,826.84 L371.64,827.84 L371.69,828.84 L371.75,829.84 L371.80,830.84 L371.86,831.84 L371.91,832.83 L371.96,833.83 L372.02,834.83 L372.07,835.83 L372.13,836.83 L372.18,837.83 L372.24,838.83 L372.29,839.82 L372.35,840.82 L372.40,841.82 L372.46,842.82 L372.51,843.82 L372.57,844.82 L372.63,845.81 L372.68,846.81 L372.74,847.81 L372.79,848.81 L372.85,849.81 L372.91,850.81 L372.96,851.81 L373.02,852.80 L373.08,853.80 L373.13,854.80 L373.19,855.80 L373.25,856.80 L373.30,857.80 L373.36,858.79 L373.42,859.79 L373.48,860.79 L373.53,861.79 L373.59,862.79 L373.65,863.79 L373.71,864.78 L373.77,865.78 L373.82,866.78 L373.88,867.78 L373.94,868.78 L374.00,869.78 L374.06,870.77 L374.12,871.77 L374.18,872.77 L374.24,873.77 L374.30,874.77 L374.35,875.77 L374.41,876.76 L374.47,877.76 L374.53,878.76 L374.59,879.76 L374.65,880.76 L374.71,881.76 L374.77,882.75 L374.83,883.75 L374.89,884.75 L374.96,885.75 L375.02,886.75 L375.08,887.75 L375.14,888.74 L375.20,889.74 L375.26,890.74 L375.32,891.74 L375.38,892.74 L375.44,893.73 L375.51,894.73 L375.57,895.73 L375.63,896.73 L375.69,897.73 L375.75,898.73 L375.82,899.72 L375.88,900.72 L375.94,901.72 L376.01,902.72 L376.07,903.72 L376.13,904.71 L376.19,905.71 L376.26,906.71 L376.32,907.71 L376.39,908.71 L376.45,909.70 L376.51,910.70 L376.58,911.70 L376.64,912.70 L376.71,913.70 L376.77,914.69 L376.83,915.69 L376.90,916.69 L376.96,917.69 L377.03,918.69 L377.09,919.68 L377.16,920.68 L377.22,921.68 L377.29,922.68 L377.36,923.68 L377.42,924.67 L377.49,925.67 L377.55,926.67 L377.62,927.67 L377.69,928.67 L377.75,929.66 L377.82,930.66 L377.89,931.66 L377.95,932.66 L378.02,933.66 L378.09,934.65 L378.15,935.65 L378.22,936.65 L378.29,937.65 L378.36,938.64 L378.43,939.64 L378.49,940.64 L378.56,941.64 L378.63,942.64 L378.70,943.63 L378.77,944.63 L378.84,945.63 L378.90,946.63 L378.97,947.62 L379.04,948.62 L379.11,949.62 L379.18,950.62 L379.25,951.62 L379.32,952.61 L379.39,953.61 L379.46,954.61 L379.53,955.61 L379.60,956.60 L379.67,957.60 L379.74,958.60 L379.81,959.60 L379.88,960.59 L379.96,961.59 L380.03,962.59 L380.10,963.59 L380.17,964.59 L380.24,965.58 L380.31,966.58 L380.39,967.58 L380.46,968.58 L380.53,969.57 L380.60,970.57 L380.68,971.57 L380.75,972.57 L380.82,973.56 L380.89,974.56 L380.97,975.56 L381.04,976.56 L381.11,977.55 L381.19,978.55 L381.26,979.55 L381.34,980.55 L381.41,981.54 L381.48,982.54 L381.56,983.54 L381.63,984.54 L381.71,985.53 L381.78,986.53 L381.86,987.53 L381.93,988.53 L382.01,989.52 L382.08,990.52 L382.16,991.52 L382.24,992.52 L382.31,993.51 L382.39,994.51 L382.47,995.51 L382.54,996.50 L382.62,997.50 L382.70,998.50 L382.77,999.50 L382.85,1000.49 L382.93,1001.49 L383.00,1002.49 L383.08,1003.49 L383.16,1004.48 L383.24,1005.48 L383.32,1006.48 L383.39,1007.47 L383.47,1008.47 L383.55,1009.47 L383.63,1010.47 L383.71,1011.46 L383.79,1012.46 L383.87,1013.46 L383.95,1014.45 L384.03,1015.45 L384.11,1016.45 L384.19,1017.45 L384.27,1018.44 L384.35,1019.44 L384.43,1020.44 L384.51,1021.43 L384.59,1022.43 L384.67,1023.43 L384.75,1024.43 L384.83,1025.42 L384.91,1026.42 L385.00,1027.42 L385.08,1028.41 L385.16,1029.41 L385.24,1030.41 L385.32,1031.40 L385.41,1032.40 L385.49,1033.40 L385.57,1034.39 L385.66,1035.39 L385.74,1036.39 L385.82,1037.39 L385.91,1038.38 L385.99,1039.38 L386.08,1040.38 L386.16,1041.37 L386.25,1042.37 L386.33,1043.37 L386.42,1044.36 L386.50,1045.36 L386.59,1046.36 L386.67,1047.35 L386.76,1048.35 L386.85,1049.35 L386.93,1050.34 L387.02,1051.34 L387.11,1052.33 L387.20,1053.33 L387.29,1054.33 L387.37,1055.32 L387.46,1056.32 L387.55,1057.32 L387.64,1058.31 L387.73,1059.31 L387.82,1060.30 L387.91,1061.30 L388.00,1062.30 L388.09,1063.29 L388.18,1064.29 L388.28,1065.28 L388.37,1066.28 L388.46,1067.28 L388.55,1068.27 L388.65,1069.27 L388.74,1070.26 L388.83,1071.26 L388.93,1072.25 L389.02,1073.25 L389.12,1074.25 L389.21,1075.24 L389.31,1076.24 L389.40,1077.23 L389.50,1078.23 L389.59,1079.22 L389.69,1080.22 L389.79,1081.21 L389.89,1082.21 L389.98,1083.20 L390.08,1084.20 L390.18,1085.19 L390.28,1086.19 L390.38,1087.18 L390.48,1088.18 L390.58,1089.17 L390.68,1090.17 L390.78,1091.16 L390.89,1092.16 L390.99,1093.15 L391.09,1094.15 L391.19,1095.14 L391.30,1096.13 L391.40,1097.13 L391.51,1098.12 L391.61,1099.12 L391.72,1100.11 L391.82,1101.11 L391.93,1102.10 L392.03,1103.09 L392.14,1104.09 L392.25,1105.08 L392.36,1106.07 L392.47,1107.07 L392.57,1108.06 L392.68,1109.05 L392.79,1110.05 L392.90,1111.04 L393.02,1112.03 L393.13,1113.03 L393.24,1114.02 L393.35,1115.01 L393.47,1116.01 L393.58,1117.00 L393.69,1117.99 L393.81,1118.99 L393.92,1119.98 L394.04,1120.97 L394.15,1121.96 L394.27,1122.96 L394.39,1123.95 L394.51,1124.94 L394.62,1125.93 L394.74,1126.92 L394.86,1127.92 L394.98,1128.91 L395.10,1129.90 L395.22,1130.89 L395.35,1131.88 L395.47,1132.87 L395.59,1133.87 L395.72,1134.86 L395.84,1135.85 L395.96,1136.84 L396.09,1137.83 L396.21,1138.82 L396.34,1139.81 L396.47,1140.80 L396.60,1141.79 L396.72,1142.78 L396.85,1143.77 L396.98,1144.77 L397.11,1145.76 L397.24,1146.75 L397.37,1147.74 L397.51,1148.73 L397.64,1149.72 L397.77,1150.71 L397.91,1151.70 L398.04,1152.69 L398.18,1153.67 L398.31,1154.66 L398.45,1155.65 L398.59,1156.64 L398.72,1157.63 L398.86,1158.62 L399.00,1159.61 L399.14,1160.60 L399.28,1161.59 L399.42,1162.58 L399.56,1163.56 L399.71,1164.55 L399.85,1165.54 L399.99,1166.53 L400.14,1167.52 L400.28,1168.50 L400.43,1169.49 L400.58,1170.48 L400.72,1171.47 L400.87,1172.46 L401.02,1173.44 L401.17,1174.43 L401.32,1175.42 L401.47,1176.40 L401.62,1177.39 L401.78,1178.38 L401.93,1179.36 L402.08,1180.35 L402.24,1181.34 L402.39,1182.32 L402.55,1183.31 L402.71,1184.30 L402.86,1185.28 L403.02,1186.27 L403.18,1187.25 L403.34,1188.24 L403.50,1189.22 L403.67,1190.21 L403.83,1191.19 L403.99,1192.18 L404.16,1193.16 L404.32,1194.15 L404.49,1195.13 L404.65,1196.12 L404.82,1197.10 L404.99,1198.09 L405.16,1199.07 L405.33,1200.05 L405.50,1201.04 L405.67,1202.02 L405.84,1203.00 L406.01,1203.99 L406.19,1204.97 L406.36,1205.95 L406.54,1206.94 L406.72,1207.92 L406.89,1208.90 L407.07,1209.88 L407.25,1210.87 L407.44,1211.85 L407.62,1212.83 L407.80,1213.81 L407.99,1214.79 L408.17,1215.77 L408.36,1216.75 L408.55,1217.73 L408.74,1218.71 L408.93,1219.69 L409.13,1220.67 L409.32,1221.65 L409.52,1222.63 L409.72,1223.61 L409.92,1224.59 L410.12,1225.57 L410.32,1226.54 L410.53,1227.52 L410.73,1228.50 L410.94,1229.48 L411.15,1230.45 L411.36,1231.43 L411.58,1232.40 L411.79,1233.38 L412.01,1234.35 L412.23,1235.33 L412.45,1236.30 L412.67,1237.27 L412.90,1238.25 L413.13,1239.22 L413.36,1240.19 L413.59,1241.16 L413.82,1242.14 L414.06,1243.11 L414.30,1244.08 L414.54,1245.05 L414.78,1246.02 L415.03,1246.98 L415.28,1247.95 L415.53,1248.92 L415.78,1249.89 L416.03,1250.86 L416.29,1251.82 L416.55,1252.79 L416.82,1253.75 L417.08,1254.72 L417.35,1255.68 L417.62,1256.64 L417.89,1257.61 L418.17,1258.57 L418.45,1259.53 L418.73,1260.49 L419.02,1261.45 L419.30,1262.41 L419.59,1263.37 L419.89,1264.33 L420.18,1265.29 L420.48,1266.25 L420.78,1267.20 L421.09,1268.16 L421.40,1269.12 L421.71,1270.07 L422.03,1271.02 L422.34,1271.98 L422.66,1272.93 L422.99,1273.88 L423.32,1274.83 L423.65,1275.78 L423.98,1276.73 L424.32,1277.68 L424.66,1278.63 L425.01,1279.58 L425.36,1280.53 L425.71,1281.47 L426.06,1282.42 L426.42,1283.36 L426.78,1284.30 L427.15,1285.24 L427.52,1286.18 L427.89,1287.12 L428.27,1288.06 L428.65,1288.99 L429.03,1289.92 L429.41,1290.85 L429.80,1291.78 L430.19,1292.70 L430.59,1293.62 L430.99,1294.54 L431.39,1295.45 L431.80,1296.36 L432.20,1297.27 L432.62,1298.17 L433.03,1299.07 L433.45,1299.97 L433.87,1300.86 L434.30,1301.75 L434.73,1302.63 L435.18,1303.51 L435.62,1304.39 L436.08,1305.25 L436.55,1306.12 L437.03,1306.98 L437.51,1307.83 L438.01,1308.68 L438.52,1309.52 L439.05,1310.36 L439.59,1311.19 L440.14,1312.01 L442.23,1314.92 L444.30,1317.21 L446.36,1319.93 L448.40,1322.36 L450.44,1324.30 L452.48,1326.28 L454.51,1327.63 L456.53,1328.35 L458.55,1330.94 L460.57,1330.88 L462.59,1333.81 L464.60,1332.62 L466.61,1336.11 L468.62,1334.74 L470.63,1336.33 L472.64,1336.84 L474.65,1339.16 L476.66,1337.48 L478.67,1339.07 L480.67,1337.59 L482.68,1339.37 L484.69,1340.69 L486.69,1339.25 L488.70,1342.83 L490.70,1341.64 L492.71,1344.30 L494.71,1344.24 L496.71,1343.05 L498.72,1346.64 L500.72,1345.28 L502.73,1347.01 L504.73,1343.83 L506.73,1345.76 L508.73,1343.52 L510.73,1350.01 L512.74,1344.70 L514.74,1345.22 L516.74,1344.24 L518.74,1346.05 L520.74,1350.30 L522.74,1350.21 L524.74,1346.28 L526.74,1348.54 L528.74,1349.26 L530.74,1351.47 L532.74,1350.22 L534.74,1351.55 L536.74,1353.78 L538.73,1353.22 L540.73,1350.76 L542.73,1351.67 L544.73,1351.32 L546.73,1349.60 L548.73,1350.55 L550.73,1351.39 L552.73,1351.83 L554.73,1352.03 L556.73,1354.22 L558.73,1357.41 L560.73,1356.08 L562.73,1356.37 L564.73,1356.29 L566.73,1355.20 L568.73,1357.78 L570.73,1356.18 L572.73,1354.86 L574.73,1351.77 L576.73,1355.01 L578.73,1353.02 L580.73,1352.52 L582.73,1355.45 L584.73,1357.67 L586.73,1354.04 L588.73,1357.73 L590.73,1355.97 L592.73,1353.19 L594.73,1359.47 L596.73,1355.27 L598.73,1354.54 L600.73,1358.81 L602.73,1353.39 L604.73,1358.09 L606.73,1354.01 L608.73,1355.63 L610.74,1354.48 L612.74,1359.17 L614.74,1355.80 L616.74,1360.31 L618.74,1357.71 L620.74,1358.28 L622.74,1357.03 L624.74,1355.46 L626.74,1356.17 L628.74,1360.36 L630.74,1354.78 L632.74,1360.81 L634.74,1359.10 L636.74,1356.11 L638.74,1358.29 L640.74,1356.35 L642.74,1356.39 L644.74,1357.35 L646.74,1353.68 L648.74,1357.33 L650.74,1360.99 L652.74,1355.80 L654.74,1359.34 L656.74,1357.04 L658.74,1355.29 L660.74,1360.60 L662.74,1353.87 L664.74,1356.06 L666.74,1361.36 L668.74,1355.77 L670.74,1360.24 L672.74,1358.41 L674.74,1359.94 L676.74,1358.61 L678.74,1356.58 L680.74,1359.61 L682.74,1354.03 L684.74,1357.23 L686.74,1356.66 L688.74,1357.45 L690.74,1354.80 L692.74,1355.51 L694.74,1358.09 L696.74,1356.76 L698.74,1359.82 L700.74,1358.39 L702.74,1360.33 L704.74,1359.34 L706.74,1358.33 L708.74,1355.93 L710.74,1359.68 L712.74,1355.62 L714.74,1354.26 L716.74,1360.99 L718.74,1357.76 L720.74,1359.51 L722.74,1357.63 L724.74,1358.23 L726.74,1353.82 L728.74,1354.95 L730.74,1358.63 L732.74,1357.81 L734.74,1354.65 L736.74,1360.64 L738.74,1354.55 L740.74,1357.22 L742.74,1354.39 L744.74,1358.71 L746.74,1355.32 L748.74,1354.20 L750.74,1353.48 L752.74,1354.42 L754.74,1354.50 L756.74,1357.07 L758.74,1356.37 L760.74,1360.16 L762.74,1360.08 L764.74,1358.83 L766.74,1357.82 L768.74,1359.08 L770.74,1359.73 L772.74,1352.70 L774.74,1353.36 L776.74,1355.13 L778.74,1353.04 L780.74,1356.81 L782.74,1354.16 L784.74,1354.11 L786.74,1354.21 L788.74,1352.68 L790.74,1357.49 L792.74,1356.71 L794.74,1356.29 L796.74,1351.85 L798.74,1354.76 L800.73,1356.61 L802.73,1352.49 L804.73,1354.14 L806.73,1351.25 L808.73,1351.62 L810.73,1352.53 L812.73,1353.93 L814.73,1354.19 L816.73,1357.27 L818.73,1352.84 L820.73,1350.48 L822.73,1356.47 L824.73,1350.53 L826.73,1350.64 L828.73,1357.12 L830.73,1355.39 L832.73,1352.10 L834.73,1350.40 L836.73,1352.19 L838.73,1351.68 L840.73,1355.60 L842.73,1351.99 L844.73,1349.27 L846.73,1355.53 L848.73,1353.06 L850.73,1349.05 L852.73,1348.86 L854.73,1351.37 L856.73,1348.36 L858.73,1352.29 L860.73,1351.99 L862.73,1347.37 L864.73,1353.08 L866.73,1352.74 L868.73,1353.53 L870.73,1351.48 L872.73,1351.46 L874.73,1347.24 L876.73,1345.99 L878.73,1346.11 L880.73,1352.74 L882.73,1350.12 L884.73,1352.20 L886.73,1347.46 L888.73,1350.34 L890.73,1344.89 L892.73,1345.44 L894.73,1346.08 L896.73,1347.94 L898.73,1347.78 L900.73,1347.13 L902.73,1346.35 L904.73,1347.28 L906.73,1350.03 L908.73,1345.95 L910.73,1348.62 L912.73,1342.46 L914.73,1344.75 L916.73,1345.86 L918.73,1346.09 L920.73,1343.06 L922.73,1343.97 L924.73,1347.91 L926.73,1345.43 L928.73,1344.72 L930.73,1340.55 L932.73,1340.23 L934.73,1341.22 L936.73,1340.44 L938.73,1346.65 L940.73,1338.98 L942.73,1341.52 L944.73,1338.96 L946.73,1343.17 L948.73,1338.44 L950.73,1338.39 L952.73,1338.26 L954.73,1339.51 L956.73,1341.61 L958.73,1343.14 L960.73,1338.84 L962.73,1338.75 L964.73,1342.65 L966.73,1341.85 L968.73,1336.94 L970.73,1341.90 L972.73,1341.88 L974.73,1336.72 L976.73,1339.93 L978.73,1336.46 L980.73,1336.62 L982.73,1338.32 L984.73,1338.34 L986.73,1337.82 L988.73,1338.10 L990.73,1335.41 L992.73,1339.52 L994.73,1335.53 L996.73,1340.16 L998.73,1336.96 L1000.73,1335.16 L1002.73,1334.00 L1004.73,1336.18 L1006.73,1335.17 L1008.73,1336.86 L1010.73,1335.74 L1012.73,1332.05 L1014.73,1337.93 L1016.73,1331.81 L1018.73,1337.54 L1020.73,1337.25 L1022.73,1337.93 L1024.73,1335.79 L1026.74,1331.79 L1028.74,1333.76 L1030.74,1333.58 L1032.74,1334.88 L1034.74,1332.81 L1036.74,1334.89 L1038.74,1331.15 L1040.74,1332.12 L1042.74,1333.41 L1044.74,1332.38 L1046.74,1329.91 L1048.74,1336.16 L1050.74,1333.93 L1052.74,1334.86 L1054.74,1331.09 L1056.74,1335.41 L1058.74,1334.26 L1060.74,1335.39 L1062.74,1329.30 L1064.74,1331.29 L1066.74,1330.46 L1068.74,1332.05 L1070.74,1329.16 L1072.74,1327.88 L1074.74,1330.61 L1076.74,1331.72 L1078.74,1329.65 L1080.74,1334.10 L1082.74,1329.56 L1084.74,1328.63 L1086.74,1332.41 L1088.74,1329.65 L1090.74,1328.06 L1092.74,1328.05 L1094.74,1332.95 L1096.74,1332.95 L1098.74,1330.43 L1100.74,1327.53 L1102.74,1330.71 L1104.74,1326.84 L1106.74,1327.53 L1108.74,1329.10 L1110.74,1327.93 L1112.74,1327.44 L1114.74,1332.08 L1116.74,1325.87 L1118.74,1329.14 L1120.74,1324.68 L1122.74,1324.99 L1124.74,1325.79 L1126.74,1331.64 L1128.74,1329.54 L1130.74,1330.53 L1132.74,1324.22 L1134.74,1328.94 L1136.74,1327.02 L1138.74,1326.76 L1140.74,1328.90 L1142.74,1325.79 L1144.74,1327.27 L1146.74,1325.28 L1148.74,1326.20 L1150.74,1327.21 L1152.74,1324.28 L1154.74,1325.12 L1156.74,1326.15 L1158.74,1326.48 L1160.74,1328.91 L1162.74,1327.66 L1164.74,1326.99 L1166.74,1329.27 L1168.74,1324.10 L1170.74,1323.34 L1172.74,1325.49 L1174.74,1323.49 L1176.74,1326.63 L1178.74,1326.72 L1180.74,1323.32 L1182.74,1327.72 L1184.74,1326.46 L1186.74,1325.41 L1188.74,1329.13 L1190.74,1328.63 L1192.74,1323.77 L1194.74,1323.33 L1196.74,1328.99 L1198.74,1323.20 L1200.74,1327.74 L1202.74,1324.34 L1204.74,1324.69 L1206.74,1326.13 L1208.74,1328.94 L1210.74,1321.90 L1212.74,1323.11 L1214.74,1327.34 L1216.74,1324.85 L1218.74,1324.03 L1220.74,1329.15 L1222.74,1323.84 L1224.74,1327.26 L1226.74,1329.15 L1228.74,1327.62 L1230.74,1327.22 L1232.74,1327.33 L1234.74,1327.95 L1236.74,1323.90 L1238.74,1326.61 L1240.74,1327.96 L1242.74,1328.62 L1244.74,1328.76 L1246.74,1328.76 L1248.74,1322.65 L1250.74,1324.78 L1252.74,1325.41 L1254.74,1328.73 L1256.74,1325.16 L1258.74,1324.01 L1260.74,1322.17 L1262.74,1324.24 L1264.74,1328.00 L1266.74,1322.25 L1268.74,1323.37 L1270.74,1324.51 L1272.74,1326.22 L1274.74,1324.97 L1276.74,1328.95 L1278.74,1323.85 L1280.74,1326.58 L1282.74,1328.25 L1284.74,1329.44 L1286.74,1329.05 L1288.74,1323.48 L1290.74,1328.51 L1292.74,1327.67 L1294.74,1325.78 L1296.74,1322.81 L1298.74,1323.93 L1300.74,1328.40 L1302.74,1323.38 L1304.74,1325.17 L1306.74,1324.78 L1308.74,1328.55 L1310.74,1325.66 L1312.74,1323.64 L1314.74,1325.84 L1316.74,1325.56 L1318.74,1328.58 L1320.74,1325.61 L1322.74,1328.50 L1324.74,1327.38 L1326.74,1330.08 L1328.74,1328.96 L1330.74,1326.54 L1332.74,1327.18 L1334.74,1327.14 L1336.74,1330.23 L1338.74,1324.71 L1340.74,1326.94 L1342.74,1327.84 L1344.74,1327.15 L1346.74,1328.44 L1348.74,1327.74 L1350.74,1327.15 L1352.74,1329.29 L1354.74,1326.63 L1356.74,1328.80 L1358.74,1329.78 L1360.74,1325.30 L1362.74,1326.85 L1364.74,1331.61 L1366.74,1331.83 L1368.74,1332.09 L1370.74,1324.93 L1372.74,1330.95 L1374.74,1331.84 L1376.74,1331.64 L1378.74,1330.28 L1380.74,1330.05 L1382.74,1330.44 L1384.74,1329.40 L1386.74,1331.09 L1388.74,1328.97 L1390.74,1326.94 L1392.74,1326.00 L1394.74,1332.24 L1396.74,1331.14 L1398.74,1326.81 L1400.74,1331.77 L1402.74,1327.86 L1404.74,1330.47 L1406.74,1328.41 L1408.74,1327.39 L1410.74,1327.16 L1412.74,1326.42 L1414.74,1326.50 L1416.74,1326.52 L1418.74,1326.74 L1420.74,1332.45 L1422.74,1330.10 L1424.74,1327.20 L1426.74,1330.27 L1428.74,1330.46 L1430.74,1330.17 L1432.74,1328.02 L1434.74,1329.81 L1436.74,1333.18 L1438.74,1329.53 L1440.74,1330.49 L1442.74,1333.79 L1444.74,1328.54 L1446.74,1332.33" stroke="#000" stroke-width="5.5"/>
<path d="M144.90,1353.63 L146.89,1353.95 L148.88,1357.90 L150.88,1352.44 L152.87,1356.32 L154.87,1357.31 L156.87,1353.21 L158.86,1352.21 L160.86,1353.88 L162.85,1356.78 L164.85,1356.05 L166.85,1352.91 L168.85,1355.05 L170.84,1356.83 L172.84,1354.94 L174.84,1356.53 L176.84,1359.05 L178.84,1356.87 L180.84,1354.64 L182.84,1353.07 L184.84,1354.26 L186.84,1355.50 L188.84,1358.37 L190.85,1357.48 L192.85,1354.00 L194.85,1358.60 L196.85,1355.15 L198.86,1356.85 L200.86,1352.40 L202.87,1352.39 L204.87,1353.14 L206.87,1358.34 L208.87,1356.81 L210.88,1358.12 L212.88,1356.58 L214.88,1354.80 L216.88,1355.66 L218.88,1356.27 L220.88,1358.34 L222.88,1355.14 L224.88,1358.62 L226.88,1356.52 L228.88,1358.18 L230.88,1355.68 L232.87,1357.17 L234.87,1354.49 L236.87,1355.90 L238.86,1353.57 L240.86,1352.69 L242.86,1352.21 L244.85,1357.23 L246.85,1355.35 L248.84,1358.67 L250.84,1358.16 L252.83,1354.69 L254.82,1359.10 L256.82,1356.11 L258.81,1357.30 L260.79,1354.39 L262.78,1352.52 L264.77,1351.98 L266.75,1351.59 L268.73,1354.21 L270.71,1349.82 L272.69,1348.56 L274.67,1352.51 L276.64,1347.15 L278.61,1347.36 L280.57,1345.71 L282.53,1344.06 L284.49,1341.48 L286.43,1339.63 L288.37,1336.55 L290.30,1333.55 L290.86,1332.68 L291.40,1331.80 L291.93,1330.93 L292.46,1330.05 L292.97,1329.16 L293.46,1328.28 L293.95,1327.39 L294.43,1326.50 L294.89,1325.60 L295.35,1324.70 L295.79,1323.80 L296.23,1322.90 L296.65,1321.99 L297.06,1321.09 L297.47,1320.17 L297.86,1319.26 L298.25,1318.34 L298.63,1317.43 L299.00,1316.50 L299.35,1315.58 L299.71,1314.65 L300.05,1313.73 L300.38,1312.80 L300.71,1311.86 L301.03,1310.93 L301.34,1309.99 L301.65,1309.05 L301.95,1308.11 L302.24,1307.17 L302.52,1306.22 L302.80,1305.28 L303.07,1304.33 L303.34,1303.38 L303.60,1302.43 L303.85,1301.47 L304.10,1300.52 L304.34,1299.56 L304.58,1298.61 L304.81,1297.65 L305.04,1296.69 L305.26,1295.72 L305.48,1294.76 L305.70,1293.80 L305.91,1292.83 L306.12,1291.86 L306.32,1290.90 L306.52,1289.93 L306.72,1288.96 L306.92,1287.99 L307.11,1287.02 L307.30,1286.05 L307.49,1285.07 L307.67,1284.10 L307.86,1283.13 L308.04,1282.15 L308.22,1281.18 L308.39,1280.20 L308.57,1279.22 L308.74,1278.25 L308.91,1277.27 L309.08,1276.29 L309.25,1275.31 L309.42,1274.33 L309.58,1273.35 L309.74,1272.37 L309.90,1271.39 L310.06,1270.41 L310.22,1269.43 L310.38,1268.44 L310.53,1267.46 L310.68,1266.48 L310.83,1265.49 L310.98,1264.51 L311.13,1263.52 L311.28,1262.54 L311.42,1261.55 L311.56,1260.56 L311.70,1259.58 L311.85,1258.59 L311.98,1257.60 L312.12,1256.61 L312.26,1255.62 L312.39,1254.63 L312.52,1253.64 L312.66,1252.65 L312.79,1251.66 L312.92,1250.67 L313.04,1249.68 L313.17,1248.69 L313.30,1247.70 L313.42,1246.71 L313.55,1245.71 L313.67,1244.72 L313.79,1243.73 L313.91,1242.73 L314.03,1241.74 L314.15,1240.74 L314.26,1239.75 L314.38,1238.75 L314.49,1237.76 L314.61,1236.76 L314.72,1235.77 L314.83,1234.77 L314.95,1233.78 L315.06,1232.78 L315.17,1231.78 L315.28,1230.79 L315.38,1229.79 L315.49,1228.79 L315.60,1227.79 L315.70,1226.80 L315.81,1225.80 L315.91,1224.80 L316.02,1223.80 L316.12,1222.80 L316.23,1221.80 L316.33,1220.81 L316.43,1219.81 L316.53,1218.81 L316.63,1217.81 L316.73,1216.81 L316.83,1215.81 L316.93,1214.81 L317.03,1213.81 L317.13,1212.81 L317.23,1211.81 L317.33,1210.81 L317.42,1209.81 L317.52,1208.81 L317.62,1207.81 L317.72,1206.81 L317.81,1205.81 L317.91,1204.81 L318.00,1203.81 L318.10,1202.81 L318.20,1201.81 L318.29,1200.81 L318.39,1199.81 L318.48,1198.81 L318.58,1197.81 L318.68,1196.81 L318.77,1195.81 L318.87,1194.81 L318.96,1193.81 L319.06,1192.81 L319.16,1191.82 L319.25,1190.82 L319.35,1189.82 L319.44,1188.82 L319.54,1187.82 L319.64,1186.82 L319.73,1185.82 L319.83,1184.82 L319.92,1183.82 L320.02,1182.82 L320.12,1181.82 L320.21,1180.83 L320.31,1179.83 L320.41,1178.83 L320.50,1177.83 L320.60,1176.83 L320.70,1175.83 L320.79,1174.84 L320.89,1173.84 L320.99,1172.84 L321.09,1171.84 L321.18,1170.85 L321.28,1169.85 L321.38,1168.85 L321.48,1167.85 L321.58,1166.86 L321.68,1165.86 L321.78,1164.86 L321.87,1163.87 L321.97,1162.87 L322.07,1161.87 L322.17,1160.88 L322.27,1159.88 L322.37,1158.89 L322.47,1157.89 L322.58,1156.90 L322.68,1155.90 L322.78,1154.91 L322.88,1153.91 L322.98,1152.92 L323.08,1151.92 L323.19,1150.93 L323.29,1149.93 L323.39,1148.94 L323.50,1147.95 L323.60,1146.95 L323.70,1145.96 L323.81,1144.97 L323.91,1143.97 L324.02,1142.98 L324.12,1141.99 L324.23,1140.99 L324.34,1140.00 L324.44,1139.01 L324.55,1138.02 L324.66,1137.03 L324.77,1136.04 L324.87,1135.05 L324.98,1134.06 L325.09,1133.07 L325.20,1132.08 L325.31,1131.09 L325.42,1130.10 L325.53,1129.11 L325.65,1128.12 L325.76,1127.13 L325.87,1126.14 L325.98,1125.15 L326.10,1124.16 L326.21,1123.18 L326.32,1122.19 L326.44,1121.20 L326.55,1120.21 L326.67,1119.23 L326.79,1118.24 L326.90,1117.26 L327.02,1116.27 L327.14,1115.29 L327.26,1114.30 L327.38,1113.32 L327.50,1112.33 L327.62,1111.35 L327.74,1110.36 L327.86,1109.38 L327.98,1108.40 L328.11,1107.41 L328.23,1106.43 L328.35,1105.45 L328.48,1104.47 L328.60,1103.49 L328.73,1102.50 L328.86,1101.52 L328.98,1100.54 L329.11,1099.56 L329.24,1098.58 L329.37,1097.60 L329.50,1096.62 L329.63,1095.65 L329.76,1094.67 L329.90,1093.69 L330.03,1092.71 L330.17,1091.73 L330.31,1090.75 L330.45,1089.77 L330.59,1088.78 L330.73,1087.80 L330.88,1086.82 L331.03,1085.84 L331.18,1084.85 L331.33,1083.87 L331.48,1082.88 L331.64,1081.89 L331.80,1080.90 L331.96,1079.91 L332.13,1078.92 L332.30,1077.92 L332.47,1076.93 L332.64,1075.93 L332.82,1074.93 L333.01,1073.93 L333.19,1072.93 L333.38,1071.92 L333.57,1070.91 L333.77,1069.90 L333.97,1068.89 L334.18,1067.88 L334.40,1066.87 L334.63,1065.86 L334.88,1064.86 L335.16,1063.87 L335.45,1062.89 L335.78,1061.93 L336.14,1060.98 L336.54,1060.05 L336.97,1059.14 L337.45,1058.25 L337.98,1057.39 L338.56,1056.56 L339.19,1055.76 L339.88,1055.00 L340.61,1054.35 L341.37,1053.89 L342.13,1053.73 L342.88,1053.92 L343.60,1054.39 L344.27,1055.08 L344.86,1055.92 L345.39,1056.84 L345.87,1057.84 L346.30,1058.88 L346.71,1059.94 L347.10,1060.98 L347.47,1062.01 L347.83,1063.03 L348.18,1064.03 L348.52,1065.03 L348.84,1066.02 L349.16,1067.00 L349.46,1067.97 L349.75,1068.93 L350.04,1069.89 L350.31,1070.84 L350.58,1071.79 L350.84,1072.73 L351.09,1073.67 L351.34,1074.61 L351.58,1075.54 L351.81,1076.48 L352.04,1077.41 L352.27,1078.35 L352.50,1079.29 L352.72,1080.23 L352.94,1081.17 L353.16,1082.12 L353.37,1083.07 L353.59,1084.02 L353.80,1084.98 L354.01,1085.93 L354.22,1086.89 L354.42,1087.85 L354.63,1088.82 L354.83,1089.78 L355.03,1090.75 L355.23,1091.72 L355.43,1092.69 L355.63,1093.66 L355.82,1094.63 L356.01,1095.61 L356.21,1096.59 L356.40,1097.57 L356.59,1098.55 L356.78,1099.53 L356.96,1100.51 L357.15,1101.49 L357.33,1102.48 L357.52,1103.46 L357.70,1104.45 L357.88,1105.43 L358.07,1106.42 L358.25,1107.41 L358.43,1108.40 L358.61,1109.39 L358.79,1110.38 L358.96,1111.37 L359.14,1112.36 L359.32,1113.35 L359.49,1114.34 L359.67,1115.33 L359.85,1116.32 L360.02,1117.30 L360.20,1118.29 L360.37,1119.28 L360.55,1120.27 L360.72,1121.26 L360.90,1122.25 L361.07,1123.23 L361.25,1124.22 L361.43,1125.20 L361.60,1126.19 L361.78,1127.17 L361.95,1128.16 L362.13,1129.14 L362.31,1130.13 L362.48,1131.11 L362.66,1132.09 L362.84,1133.07 L363.02,1134.06 L363.20,1135.04 L363.38,1136.02 L363.56,1137.00 L363.74,1137.98 L363.93,1138.96 L364.11,1139.94 L364.30,1140.92 L364.48,1141.90 L364.67,1142.88 L364.86,1143.86 L365.05,1144.84 L365.24,1145.82 L365.43,1146.79 L365.62,1147.77 L365.82,1148.75 L366.01,1149.73 L366.21,1150.71 L366.41,1151.68 L366.61,1152.66 L366.81,1153.64 L367.02,1154.61 L367.22,1155.59 L367.43,1156.56 L367.63,1157.54 L367.84,1158.52 L368.05,1159.49 L368.27,1160.47 L368.48,1161.44 L368.69,1162.42 L368.91,1163.39 L369.13,1164.37 L369.35,1165.34 L369.57,1166.31 L369.79,1167.29 L370.01,1168.26 L370.24,1169.23 L370.46,1170.21 L370.69,1171.18 L370.92,1172.15 L371.15,1173.12 L371.38,1174.09 L371.61,1175.07 L371.85,1176.04 L372.08,1177.01 L372.32,1177.98 L372.56,1178.95 L372.80,1179.92 L373.04,1180.89 L373.28,1181.86 L373.52,1182.83 L373.77,1183.80 L374.01,1184.77 L374.26,1185.74 L374.51,1186.70 L374.76,1187.67 L375.01,1188.64 L375.26,1189.61 L375.51,1190.57 L375.77,1191.54 L376.02,1192.51 L376.28,1193.47 L376.54,1194.44 L376.80,1195.40 L377.06,1196.37 L377.32,1197.33 L377.58,1198.30 L377.85,1199.26 L378.11,1200.23 L378.38,1201.19 L378.64,1202.15 L378.91,1203.12 L379.18,1204.08 L379.45,1205.04 L379.73,1206.00 L380.00,1206.96 L380.27,1207.93 L380.55,1208.89 L380.83,1209.85 L381.10,1210.81 L381.38,1211.77 L381.66,1212.73 L381.94,1213.69 L382.23,1214.64 L382.51,1215.60 L382.79,1216.56 L383.08,1217.52 L383.37,1218.48 L383.65,1219.43 L383.94,1220.39 L384.23,1221.35 L384.52,1222.30 L384.81,1223.26 L385.11,1224.21 L385.40,1225.17 L385.70,1226.12 L385.99,1227.08 L386.29,1228.03 L386.59,1228.98 L386.89,1229.93 L387.19,1230.89 L387.49,1231.84 L387.80,1232.79 L388.10,1233.74 L388.41,1234.69 L388.72,1235.64 L389.03,1236.59 L389.33,1237.54 L389.65,1238.49 L389.96,1239.44 L390.27,1240.39 L390.59,1241.34 L390.90,1242.28 L391.22,1243.23 L391.54,1244.18 L391.86,1245.13 L392.18,1246.07 L392.50,1247.02 L392.82,1247.96 L393.15,1248.91 L393.47,1249.85 L393.80,1250.79 L394.13,1251.74 L394.46,1252.68 L394.79,1253.62 L395.12,1254.57 L395.46,1255.51 L395.79,1256.45 L396.13,1257.39 L396.47,1258.33 L396.81,1259.27 L397.15,1260.21 L397.49,1261.15 L397.83,1262.09 L398.18,1263.02 L398.52,1263.96 L398.87,1264.90 L399.22,1265.84 L399.57,1266.77 L399.92,1267.71 L400.27,1268.64 L400.63,1269.58 L400.98,1270.51 L401.34,1271.45 L401.70,1272.38 L402.06,1273.31 L402.42,1274.24 L402.78,1275.18 L403.14,1276.11 L403.51,1277.04 L403.88,1277.97 L404.25,1278.90 L404.62,1279.83 L404.99,1280.76 L405.37,1281.68 L405.74,1282.61 L406.13,1283.54 L406.51,1284.46 L406.90,1285.38 L407.29,1286.30 L407.69,1287.22 L408.09,1288.13 L408.50,1289.04 L408.91,1289.95 L409.32,1290.86 L409.75,1291.77 L410.17,1292.67 L410.61,1293.57 L411.05,1294.46 L411.50,1295.35 L411.95,1296.24 L412.42,1297.13 L412.89,1298.01 L413.36,1298.88 L413.85,1299.75 L414.34,1300.62 L414.85,1301.48 L415.36,1302.34 L415.88,1303.19 L416.41,1304.04 L416.95,1304.88 L417.51,1305.72 L418.07,1306.55 L418.64,1307.38 L419.23,1308.20 L419.82,1309.01 L420.42,1309.82 L421.04,1310.62 L421.66,1311.42 L422.30,1312.21 L422.94,1312.99 L423.60,1313.76 L424.26,1314.53 L424.93,1315.29 L425.61,1316.04 L426.30,1316.79 L427.00,1317.53 L427.71,1318.25 L428.43,1318.98 L429.15,1319.69 L429.88,1320.39 L430.62,1321.09 L431.37,1321.78 L432.13,1322.45 L432.89,1323.12 L433.66,1323.78 L434.44,1324.43 L435.22,1325.07 L436.01,1325.71 L436.81,1326.33 L437.62,1326.94 L438.43,1327.54 L439.24,1328.13 L440.07,1328.71 L442.08,1330.10 L444.10,1331.35 L446.11,1332.90 L448.12,1333.37 L450.14,1334.93 L452.15,1335.74 L454.16,1335.74 L456.17,1336.98 L458.17,1339.17 L460.18,1339.64 L462.19,1338.22 L464.20,1339.60 L466.20,1339.18 L468.21,1342.52 L470.22,1340.36 L472.22,1340.52 L474.23,1344.85 L476.23,1342.91 L478.24,1342.66 L480.24,1341.58 L482.25,1343.61 L484.25,1343.75 L486.25,1344.91 L488.26,1342.01 L490.26,1343.02 L492.26,1343.56 L494.26,1345.28 L496.27,1344.47 L498.27,1346.89 L500.27,1344.59 L502.27,1349.50 L504.27,1350.04 L506.27,1343.33 L508.27,1344.61 L510.27,1347.43 L512.27,1349.15 L514.27,1343.91 L516.27,1344.96 L518.27,1347.16 L520.27,1348.90 L522.27,1350.82 L524.27,1350.67 L526.27,1350.25 L528.26,1344.74 L530.26,1351.89 L532.26,1349.26 L534.26,1345.37 L536.26,1346.77 L538.26,1349.67 L540.26,1348.00 L542.26,1348.58 L544.26,1351.41 L546.26,1351.67 L548.26,1349.66 L550.26,1351.63 L552.26,1348.80 L554.26,1353.21 L556.26,1350.50 L558.26,1353.34 L560.26,1346.40 L562.26,1352.86 L564.26,1350.48 L566.26,1351.72 L568.26,1347.83 L570.26,1350.60 L572.26,1348.69 L574.26,1347.35 L576.26,1346.62 L578.26,1353.53 L580.26,1351.78 L582.26,1348.28 L584.26,1348.72 L586.26,1350.33 L588.26,1353.04 L590.26,1347.74 L592.26,1354.23 L594.26,1354.07 L596.26,1348.77 L598.26,1351.79 L600.26,1349.67 L602.26,1352.24 L604.26,1347.61 L606.26,1350.53 L608.26,1351.43 L610.26,1351.72 L612.26,1352.22 L614.26,1353.72 L616.26,1348.77 L618.26,1348.10 L620.26,1349.89 L622.26,1351.23 L624.26,1354.20 L626.26,1352.28 L628.26,1352.48 L630.26,1354.24 L632.26,1348.86 L634.26,1348.78 L636.26,1350.00 L638.26,1349.01 L640.26,1351.69 L642.26,1353.95 L644.26,1347.86 L646.26,1350.61 L648.26,1351.80 L650.26,1350.37 L652.26,1353.55 L654.26,1352.18 L656.26,1353.26 L658.26,1347.38 L660.26,1347.99 L662.26,1346.98 L664.26,1352.76 L666.26,1353.75 L668.26,1346.52 L670.26,1352.39 L672.26,1351.90 L674.26,1353.26 L676.26,1348.39 L678.26,1351.75 L680.26,1348.11 L682.26,1346.87 L684.26,1351.94 L686.26,1346.59 L688.26,1351.57 L690.26,1348.40 L692.26,1349.94 L694.26,1353.00 L696.26,1348.07 L698.26,1349.77 L700.26,1348.90 L702.26,1347.64 L704.26,1349.79 L706.26,1347.56 L708.26,1352.25 L710.26,1350.84 L712.26,1348.31 L714.26,1353.55 L716.26,1348.77 L718.26,1351.24 L720.26,1351.71 L722.26,1348.14 L724.26,1346.21 L726.26,1352.90 L728.26,1353.37 L730.26,1347.39 L732.26,1347.25 L734.26,1349.36 L736.26,1350.60 L738.26,1353.56 L740.26,1353.35 L742.26,1353.52 L744.26,1347.86 L746.26,1350.53 L748.26,1349.27 L750.26,1347.70 L752.26,1346.41 L754.26,1347.17 L756.26,1348.59 L758.26,1346.51 L760.26,1346.95 L762.26,1346.11 L764.26,1350.47 L766.26,1349.45 L768.26,1347.52 L770.26,1349.62 L772.26,1348.81 L774.26,1350.55 L776.26,1352.58 L778.26,1348.12 L780.26,1350.29 L782.26,1346.99 L784.26,1352.41 L786.26,1349.90 L788.26,1346.35 L790.26,1347.03 L792.26,1346.21 L794.26,1346.29 L796.26,1347.18 L798.26,1351.02 L800.26,1348.16 L802.26,1346.71 L804.26,1347.70 L806.26,1346.46 L808.26,1349.91 L810.26,1344.68 L812.26,1346.34 L814.26,1346.50 L816.26,1345.32 L818.26,1349.45 L820.26,1345.10 L822.26,1345.91 L824.26,1343.95 L826.26,1349.15 L828.26,1346.06 L830.26,1348.17 L832.26,1344.72 L834.26,1343.12 L836.26,1345.29 L838.26,1348.64 L840.26,1348.97 L842.26,1345.14 L844.26,1348.80 L846.26,1342.63 L848.26,1346.10 L850.26,1343.96 L852.26,1345.22 L854.26,1343.45 L856.26,1348.43 L858.26,1343.81 L860.26,1348.58 L862.26,1342.10 L864.26,1344.42 L866.26,1344.40 L868.26,1346.30 L870.26,1343.41 L872.26,1344.41 L874.26,1341.08 L876.26,1342.79 L878.26,1345.82 L880.26,1341.00 L882.26,1343.59 L884.26,1341.76 L886.26,1341.10 L888.26,1340.65 L890.26,1345.80 L892.26,1344.73 L894.26,1342.28 L896.26,1342.27 L898.26,1344.72 L900.26,1343.67 L902.26,1345.94 L904.26,1345.86 L906.26,1342.44 L908.26,1343.69 L910.26,1342.72 L912.26,1340.84 L914.26,1341.84 L916.26,1343.78 L918.26,1342.41 L920.26,1342.92 L922.26,1341.73 L924.26,1345.19 L926.26,1343.76 L928.26,1338.77 L930.26,1343.88 L932.26,1344.58 L934.26,1343.73 L936.26,1340.06 L938.26,1340.17 L940.26,1339.14 L942.26,1337.64 L944.26,1340.73 L946.26,1343.54 L948.26,1342.84 L950.26,1341.96 L952.26,1343.30 L954.26,1341.80 L956.26,1338.42 L958.26,1342.77 L960.26,1339.39 L962.26,1343.30 L964.26,1338.95 L966.26,1337.11 L968.26,1341.90 L970.26,1337.11 L972.26,1342.85 L974.26,1339.30 L976.26,1342.05 L978.26,1336.46 L980.26,1340.14 L982.26,1341.10 L984.26,1336.89 L986.26,1340.47 L988.26,1336.89 L990.26,1338.06 L992.26,1338.48 L994.26,1340.36 L996.26,1336.59 L998.26,1336.96 L1000.26,1341.45 L1002.26,1340.91 L1004.26,1338.88 L1006.26,1337.52 L1008.26,1340.60 L1010.26,1338.85 L1012.26,1337.62 L1014.26,1341.86 L1016.26,1336.71 L1018.26,1341.25 L1020.26,1339.79 L1022.26,1339.97 L1024.26,1340.21 L1026.26,1340.67 L1028.26,1341.64 L1030.26,1341.91 L1032.26,1336.82 L1034.26,1336.09 L1036.26,1341.62 L1038.26,1336.32 L1040.26,1336.43 L1042.26,1340.83 L1044.26,1342.02 L1046.26,1341.06 L1048.26,1338.54 L1050.26,1337.44 L1052.26,1342.06 L1054.26,1340.12 L1056.26,1339.27 L1058.26,1334.55 L1060.26,1335.92 L1062.26,1334.50 L1064.26,1341.27 L1066.26,1336.14 L1068.26,1335.62 L1070.26,1338.72 L1072.26,1335.80 L1074.26,1338.39 L1076.26,1341.42 L1078.26,1340.74 L1080.26,1336.01 L1082.26,1341.08 L1084.26,1337.13 L1086.26,1338.04 L1088.26,1336.51 L1090.26,1341.61 L1092.26,1336.32 L1094.26,1339.56 L1096.26,1338.64 L1098.26,1339.14 L1100.26,1334.67 L1102.26,1337.93 L1104.26,1341.40 L1106.26,1338.07 L1108.26,1335.26 L1110.26,1334.14 L1112.26,1336.22 L1114.26,1339.35 L1116.26,1333.84 L1118.26,1333.99 L1120.26,1338.59 L1122.26,1340.27 L1124.26,1336.87 L1126.26,1338.25 L1128.26,1335.43 L1130.26,1335.52 L1132.26,1337.02 L1134.26,1335.05 L1136.26,1336.80 L1138.26,1334.45 L1140.26,1340.31 L1142.26,1338.19 L1144.26,1333.95 L1146.26,1334.67 L1148.26,1339.48 L1150.26,1335.98 L1152.26,1335.09 L1154.26,1333.27 L1156.26,1338.19 L1158.26,1337.37 L1160.26,1339.40 L1162.26,1334.28 L1164.26,1338.68 L1166.26,1339.22 L1168.26,1339.18 L1170.26,1338.57 L1172.26,1336.24 L1174.26,1333.22 L1176.26,1337.74 L1178.26,1333.02 L1180.26,1333.46 L1182.26,1335.90 L1184.26,1333.70 L1186.26,1336.20 L1188.26,1339.23 L1190.26,1334.07 L1192.26,1338.81 L1194.26,1340.32 L1196.26,1333.02 L1198.26,1335.95 L1200.26,1338.11 L1202.26,1338.30 L1204.26,1334.87 L1206.26,1338.90 L1208.26,1335.58 L1210.26,1334.30 L1212.26,1336.72 L1214.26,1337.45 L1216.26,1339.18 L1218.26,1337.88 L1220.26,1333.49 L1222.26,1337.25 L1224.26,1335.53 L1226.26,1338.30 L1228.26,1333.32 L1230.26,1338.01 L1232.26,1339.07 L1234.26,1333.40 L1236.26,1333.25 L1238.26,1339.96 L1240.26,1340.04 L1242.26,1334.63 L1244.26,1340.35 L1246.26,1336.49 L1248.26,1337.40 L1250.26,1337.10 L1252.26,1336.13 L1254.26,1340.37 L1256.26,1338.36 L1258.26,1340.88 L1260.26,1338.60 L1262.26,1340.97 L1264.26,1337.94 L1266.26,1337.71 L1268.26,1338.53 L1270.26,1334.32 L1272.26,1340.19 L1274.26,1335.50 L1276.26,1341.71 L1278.26,1334.96 L1280.26,1340.10 L1282.26,1340.65 L1284.26,1339.02 L1286.26,1335.73 L1288.26,1341.26 L1290.26,1337.64 L1292.26,1337.48 L1294.26,1340.66 L1296.26,1342.88 L1298.26,1336.33 L1300.26,1339.02 L1302.26,1340.93 L1304.26,1338.02 L1306.26,1343.05 L1308.26,1340.71 L1310.26,1336.81 L1312.26,1337.52 L1314.26,1337.54 L1316.26,1340.02 L1318.26,1343.58 L1320.26,1337.63 L1322.26,1338.03 L1324.26,1338.60 L1326.26,1341.46 L1328.26,1340.48 L1330.26,1340.50 L1332.26,1338.53 L1334.26,1343.80 L1336.26,1341.29 L1338.26,1344.33 L1340.26,1338.09 L1342.26,1341.45 L1344.26,1340.88 L1346.26,1344.58 L1348.26,1343.55 L1350.26,1342.35 L1352.26,1339.72 L1354.26,1343.79 L1356.26,1345.51 L1358.26,1344.70 L1360.26,1346.25 L1362.26,1343.49 L1364.26,1341.48 L1366.26,1340.87 L1368.26,1345.37 L1370.26,1345.55 L1372.26,1344.30 L1374.26,1345.51 L1376.26,1343.35 L1378.26,1346.22 L1380.26,1345.11 L1382.26,1341.75 L1384.26,1344.46 L1386.26,1345.07 L1388.26,1341.70 L1390.26,1347.35 L1392.26,1346.43 L1394.26,1341.49 L1396.26,1342.12 L1398.26,1340.54 L1400.26,1347.73 L1402.26,1341.98 L1404.26,1347.05 L1406.26,1344.66 L1408.26,1341.26 L1410.26,1342.49 L1412.26,1342.89 L1414.26,1346.79 L1416.26,1343.82 L1418.26,1342.14 L1420.26,1348.30 L1422.26,1345.05 L1424.26,1341.68 L1426.26,1348.60 L1428.26,1346.36 L1430.26,1344.61 L1432.26,1342.38 L1434.26,1346.56 L1436.26,1342.04 L1438.26,1348.45 L1440.26,1347.03 L1442.26,1346.74 L1444.26,1347.18 L1446.26,1347.88" stroke="#0000ff" stroke-width="5.5"/>
<path d="M144.82,1354.08 L146.82,1355.26 L148.82,1359.58 L150.81,1357.94 L152.81,1354.25 L154.81,1356.84 L156.80,1357.20 L158.80,1354.78 L160.80,1359.16 L162.79,1354.44 L164.79,1356.55 L166.79,1357.51 L168.79,1356.85 L170.79,1358.03 L172.78,1359.17 L174.78,1360.83 L176.78,1355.71 L178.78,1358.47 L180.78,1358.82 L182.78,1355.74 L184.78,1353.51 L186.78,1360.89 L188.77,1355.74 L190.77,1355.85 L192.77,1360.23 L194.77,1357.88 L196.77,1357.01 L198.77,1359.29 L200.78,1353.64 L202.78,1358.77 L204.78,1356.24 L206.78,1354.08 L208.78,1358.41 L210.78,1360.47 L212.78,1354.97 L214.78,1358.19 L216.79,1355.67 L218.79,1359.06 L220.79,1358.92 L222.79,1355.12 L224.80,1359.79 L226.80,1358.50 L228.80,1358.73 L230.80,1359.80 L232.81,1356.87 L234.81,1359.42 L236.81,1360.37 L238.81,1354.51 L240.81,1360.22 L242.81,1356.79 L244.81,1357.46 L246.80,1354.93 L248.80,1359.12 L250.80,1356.01 L252.79,1360.37 L254.78,1355.77 L256.78,1357.84 L258.77,1356.45 L260.76,1357.84 L262.75,1354.37 L264.74,1353.84 L266.72,1357.63 L268.71,1357.01 L270.69,1354.79 L272.68,1356.14 L274.66,1350.60 L276.64,1352.93 L278.61,1348.44 L280.59,1350.17 L282.56,1347.38 L284.52,1345.67 L286.49,1344.36 L288.44,1342.04 L290.40,1339.84 L291.06,1339.11 L291.71,1338.37 L292.35,1337.62 L292.97,1336.86 L293.58,1336.09 L294.18,1335.32 L294.76,1334.53 L295.33,1333.73 L295.89,1332.93 L296.44,1332.11 L296.98,1331.29 L297.50,1330.46 L298.02,1329.62 L298.52,1328.78 L299.01,1327.92 L299.49,1327.06 L299.96,1326.20 L300.43,1325.32 L300.88,1324.44 L301.32,1323.56 L301.76,1322.66 L302.18,1321.77 L302.60,1320.86 L303.01,1319.95 L303.41,1319.04 L303.81,1318.12 L304.20,1317.20 L304.58,1316.27 L304.95,1315.34 L305.32,1314.40 L305.69,1313.46 L306.05,1312.52 L306.40,1311.57 L306.75,1310.62 L307.09,1309.67 L307.43,1308.71 L307.76,1307.76 L308.10,1306.80 L308.42,1305.84 L308.75,1304.87 L309.07,1303.91 L309.39,1302.94 L309.71,1301.98 L310.03,1301.01 L310.34,1300.04 L310.65,1299.07 L310.97,1298.10 L311.28,1297.13 L311.59,1296.16 L311.90,1295.20 L312.21,1294.23 L312.52,1293.26 L312.83,1292.30 L313.15,1291.34 L313.46,1290.37 L313.78,1289.42 L314.10,1288.46 L314.42,1287.50 L314.74,1286.55 L315.07,1285.60 L315.40,1284.65 L315.73,1283.71 L316.07,1282.77 L316.41,1281.83 L316.75,1280.90 L317.09,1279.96 L317.44,1279.03 L317.78,1278.10 L318.12,1277.17 L318.46,1276.25 L318.80,1275.32 L319.14,1274.39 L319.47,1273.46 L319.80,1272.54 L320.13,1271.61 L320.45,1270.68 L320.76,1269.75 L321.07,1268.82 L321.37,1267.88 L321.67,1266.94 L321.95,1266.00 L322.23,1265.06 L322.50,1264.11 L322.76,1263.16 L323.01,1262.21 L323.24,1261.25 L323.47,1260.29 L323.68,1259.32 L323.88,1258.35 L324.07,1257.37 L324.24,1256.38 L324.40,1255.39 L324.54,1254.40 L324.67,1253.39 L324.79,1252.39 L324.91,1251.37 L325.02,1250.36 L325.14,1249.35 L325.26,1248.33 L325.39,1247.32 L325.54,1246.30 L325.70,1245.29 L325.87,1244.28 L326.07,1243.28 L326.30,1242.28 L326.56,1241.29 L326.85,1240.31 L327.18,1239.33 L327.54,1238.37 L327.96,1237.43 L328.41,1236.52 L328.92,1235.64 L329.49,1234.80 L330.11,1234.00 L330.79,1233.27 L331.53,1232.59 L332.33,1231.98 L333.18,1231.43 L334.06,1230.96 L334.98,1230.58 L335.92,1230.27 L336.89,1230.05 L337.86,1229.93 L338.85,1229.90 L339.83,1229.96 L340.80,1230.11 L341.75,1230.34 L342.69,1230.67 L343.59,1231.07 L344.45,1231.56 L345.28,1232.13 L346.06,1232.77 L346.80,1233.48 L347.50,1234.25 L348.16,1235.07 L348.78,1235.94 L349.36,1236.85 L349.91,1237.78 L350.42,1238.74 L350.89,1239.72 L351.33,1240.71 L351.74,1241.70 L352.11,1242.69 L352.45,1243.67 L352.77,1244.63 L353.05,1245.58 L353.32,1246.51 L353.58,1247.43 L353.83,1248.34 L354.08,1249.23 L354.34,1250.11 L354.61,1250.99 L354.90,1251.85 L355.22,1252.71 L355.56,1253.56 L355.95,1254.40 L356.38,1255.24 L356.86,1256.08 L357.40,1256.91 L357.98,1257.74 L358.58,1258.57 L359.21,1259.40 L359.84,1260.24 L360.47,1261.07 L361.09,1261.91 L361.67,1262.76 L362.23,1263.60 L362.76,1264.46 L363.27,1265.31 L363.75,1266.17 L364.21,1267.04 L364.65,1267.91 L365.08,1268.78 L365.50,1269.65 L365.90,1270.53 L366.30,1271.41 L366.69,1272.29 L367.08,1273.17 L367.47,1274.06 L367.86,1274.94 L368.25,1275.83 L368.65,1276.72 L369.06,1277.61 L369.48,1278.50 L369.91,1279.39 L370.35,1280.28 L370.79,1281.17 L371.24,1282.05 L371.71,1282.94 L372.18,1283.83 L372.65,1284.72 L373.14,1285.60 L373.63,1286.48 L374.13,1287.36 L374.63,1288.24 L375.14,1289.11 L375.66,1289.99 L376.18,1290.86 L376.71,1291.72 L377.24,1292.58 L377.78,1293.44 L378.32,1294.30 L378.87,1295.15 L379.42,1295.99 L379.98,1296.83 L380.54,1297.67 L381.10,1298.50 L381.67,1299.33 L382.25,1300.16 L382.83,1300.98 L383.41,1301.79 L384.01,1302.60 L384.60,1303.41 L385.20,1304.21 L385.81,1305.00 L386.42,1305.80 L387.04,1306.58 L387.66,1307.36 L388.28,1308.14 L388.92,1308.91 L389.56,1309.68 L390.20,1310.44 L390.85,1311.19 L391.50,1311.94 L392.17,1312.69 L392.83,1313.43 L393.51,1314.16 L394.18,1314.89 L394.87,1315.62 L395.56,1316.34 L396.25,1317.05 L396.96,1317.76 L397.67,1318.46 L398.38,1319.15 L399.10,1319.84 L399.83,1320.53 L400.56,1321.20 L401.30,1321.88 L402.05,1322.54 L402.80,1323.20 L403.56,1323.86 L404.33,1324.51 L405.10,1325.15 L405.88,1325.78 L406.66,1326.41 L407.45,1327.03 L408.25,1327.65 L409.05,1328.25 L409.85,1328.85 L410.67,1329.45 L411.48,1330.03 L412.31,1330.61 L413.14,1331.18 L413.97,1331.74 L414.81,1332.30 L415.65,1332.85 L416.50,1333.38 L417.36,1333.92 L418.21,1334.44 L419.08,1334.95 L419.95,1335.46 L420.82,1335.95 L421.70,1336.44 L422.58,1336.92 L423.46,1337.39 L424.35,1337.85 L425.25,1338.30 L426.14,1338.75 L427.05,1339.18 L427.95,1339.60 L428.86,1340.02 L429.77,1340.42 L430.69,1340.82 L431.61,1341.20 L432.53,1341.58 L433.46,1341.94 L434.39,1342.30 L435.32,1342.65 L436.26,1342.99 L437.20,1343.32 L438.14,1343.65 L439.09,1343.96 L440.03,1344.27 L442.04,1344.78 L444.05,1345.42 L446.05,1345.72 L448.05,1346.25 L450.06,1346.69 L452.06,1348.07 L454.07,1347.29 L456.07,1347.96 L458.07,1348.75 L460.07,1350.02 L462.07,1350.79 L464.08,1350.46 L466.08,1349.19 L468.08,1350.60 L470.08,1351.52 L472.08,1349.18 L474.08,1352.04 L476.08,1350.91 L478.08,1352.18 L480.08,1352.83 L482.08,1353.08 L484.08,1352.51 L486.08,1352.88 L488.08,1350.90 L490.08,1352.87 L492.08,1350.59 L494.08,1353.07 L496.08,1353.59 L498.08,1355.47 L500.08,1352.76 L502.09,1350.03 L504.09,1353.99 L506.09,1351.62 L508.09,1355.78 L510.09,1353.17 L512.09,1353.18 L514.09,1357.26 L516.09,1353.39 L518.09,1353.10 L520.09,1353.13 L522.09,1354.18 L524.09,1351.26 L526.09,1354.73 L528.09,1357.60 L530.09,1354.89 L532.09,1356.28 L534.09,1357.83 L536.09,1357.04 L538.09,1356.30 L540.09,1356.82 L542.09,1356.87 L544.09,1352.57 L546.09,1354.29 L548.09,1353.23 L550.09,1352.60 L552.09,1354.95 L554.09,1353.01 L556.09,1355.29 L558.09,1355.00 L560.09,1351.36 L562.09,1353.91 L564.09,1353.50 L566.09,1355.90 L568.09,1351.19 L570.09,1351.79 L572.09,1354.39 L574.09,1353.55 L576.09,1355.52 L578.09,1352.98 L580.09,1351.94 L582.09,1357.51 L584.09,1352.27 L586.09,1351.52 L588.09,1352.51 L590.09,1352.96 L592.09,1352.07 L594.09,1354.42 L596.09,1357.45 L598.09,1351.28 L600.09,1353.46 L602.09,1355.37 L604.09,1357.00 L606.09,1357.86 L608.09,1351.34 L610.09,1354.32 L612.09,1356.91 L614.09,1350.61 L616.09,1354.66 L618.09,1351.49 L620.09,1355.99 L622.09,1357.27 L624.09,1354.22 L626.09,1350.18 L628.09,1350.59 L630.09,1353.24 L632.09,1356.51 L634.09,1351.86 L636.09,1355.13 L638.09,1353.11 L640.09,1352.03 L642.09,1355.35 L644.09,1352.33 L646.09,1352.80 L648.09,1355.77 L650.09,1353.71 L652.09,1355.89 L654.09,1353.84 L656.09,1351.12 L658.09,1353.26 L660.09,1356.51 L662.09,1354.16 L664.09,1357.18 L666.09,1349.85 L668.09,1352.41 L670.09,1355.66 L672.09,1355.02 L674.09,1354.06 L676.09,1354.82 L678.09,1356.43 L680.09,1354.95 L682.09,1353.91 L684.09,1354.01 L686.09,1354.79 L688.09,1352.18 L690.09,1354.80 L692.09,1354.37 L694.09,1355.66 L696.09,1353.33 L698.09,1349.88 L700.09,1353.74 L702.09,1356.17 L704.09,1354.51 L706.09,1354.53 L708.09,1352.61 L710.09,1352.34 L712.09,1355.09 L714.09,1350.21 L716.09,1356.20 L718.09,1356.27 L720.09,1356.92 L722.09,1350.63 L724.09,1350.47 L726.09,1356.39 L728.09,1352.64 L730.09,1351.64 L732.09,1352.49 L734.09,1354.60 L736.09,1350.81 L738.09,1353.29 L740.09,1354.60 L742.09,1355.06 L744.09,1349.68 L746.09,1355.75 L748.09,1352.89 L750.09,1352.90 L752.09,1353.86 L754.09,1351.72 L756.09,1356.33 L758.09,1351.21 L760.09,1353.72 L762.09,1350.88 L764.09,1354.28 L766.09,1356.46 L768.09,1356.31 L770.09,1350.63 L772.09,1354.36 L774.09,1356.39 L776.09,1351.13 L778.09,1352.76 L780.09,1355.03 L782.09,1355.22 L784.09,1353.04 L786.09,1354.46 L788.09,1354.69 L790.09,1352.29 L792.09,1354.56 L794.09,1353.99 L796.09,1354.90 L798.09,1353.48 L800.09,1352.14 L802.09,1352.88 L804.09,1356.58 L806.09,1350.99 L808.09,1350.69 L810.09,1349.64 L812.09,1356.02 L814.09,1357.04 L816.09,1351.31 L818.09,1351.53 L820.09,1351.00 L822.09,1354.04 L824.09,1353.15 L826.09,1355.68 L828.09,1351.02 L830.09,1356.08 L832.09,1352.91 L834.09,1355.51 L836.09,1355.44 L838.09,1356.25 L840.09,1353.10 L842.09,1353.92 L844.09,1353.53 L846.09,1350.69 L848.09,1353.03 L850.09,1356.24 L852.09,1356.08 L854.09,1349.32 L856.09,1354.18 L858.09,1351.60 L860.09,1350.13 L862.09,1350.13 L864.09,1355.09 L866.09,1356.32 L868.09,1352.97 L870.09,1351.91 L872.09,1352.85 L874.09,1355.27 L876.09,1354.62 L878.09,1349.42 L880.09,1350.54 L882.09,1355.50 L884.09,1352.65 L886.09,1353.89 L888.09,1354.79 L890.09,1353.72 L892.09,1354.45 L894.09,1353.02 L896.09,1350.61 L898.09,1350.29 L900.09,1356.42 L902.09,1348.96 L904.09,1354.14 L906.09,1355.59 L908.09,1350.66 L910.09,1349.29 L912.09,1351.97 L914.09,1351.46 L916.09,1352.48 L918.09,1352.24 L920.09,1356.17 L922.09,1349.94 L924.09,1356.24 L926.09,1349.44 L928.09,1356.25 L930.09,1351.68 L932.09,1354.71 L934.09,1349.24 L936.09,1352.65 L938.09,1354.44 L940.09,1354.10 L942.09,1355.49 L944.09,1350.57 L946.09,1352.49 L948.09,1354.15 L950.09,1349.75 L952.09,1355.92 L954.09,1352.78 L956.09,1351.53 L958.09,1351.39 L960.09,1354.69 L962.09,1350.15 L964.09,1351.69 L966.09,1352.19 L968.09,1351.89 L970.09,1355.52 L972.09,1354.52 L974.09,1356.93 L976.09,1355.43 L978.09,1352.39 L980.09,1352.66 L982.09,1351.18 L984.09,1352.13 L986.09,1354.92 L988.09,1355.93 L990.09,1352.66 L992.09,1353.07 L994.09,1356.60 L996.09,1357.82 L998.09,1351.22 L1000.09,1351.15 L1002.09,1356.42 L1004.09,1354.45 L1006.09,1353.95 L1008.09,1355.57 L1010.09,1356.56 L1012.09,1351.35 L1014.09,1358.16 L1016.09,1358.16 L1018.09,1354.07 L1020.09,1354.50 L1022.09,1353.03 L1024.09,1355.45 L1026.09,1352.57 L1028.09,1355.10 L1030.09,1357.94 L1032.09,1354.93 L1034.09,1357.39 L1036.09,1352.49 L1038.09,1357.87 L1040.09,1352.11 L1042.09,1352.81 L1044.09,1356.69 L1046.09,1353.53 L1048.09,1352.15 L1050.09,1351.93 L1052.09,1357.31 L1054.09,1351.45 L1056.09,1351.74 L1058.09,1358.52 L1060.09,1357.29 L1062.09,1354.18 L1064.09,1352.84 L1066.09,1357.98 L1068.09,1357.39 L1070.09,1356.50 L1072.09,1355.46 L1074.09,1355.43 L1076.09,1358.88 L1078.09,1355.43 L1080.09,1352.11 L1082.09,1352.05 L1084.09,1356.02 L1086.09,1357.08 L1088.09,1356.29 L1090.09,1357.17 L1092.09,1353.78 L1094.09,1354.37 L1096.09,1353.58 L1098.09,1354.40 L1100.09,1353.61 L1102.09,1357.93 L1104.09,1352.72 L1106.09,1353.19 L1108.09,1357.05 L1110.09,1354.65 L1112.09,1354.23 L1114.09,1359.05 L1116.09,1358.45 L1118.09,1353.33 L1120.09,1352.85 L1122.09,1355.42 L1124.09,1356.05 L1126.09,1354.33 L1128.09,1356.20 L1130.09,1356.87 L1132.09,1357.92 L1134.09,1353.57 L1136.09,1356.64 L1138.09,1352.19 L1140.09,1352.25 L1142.09,1352.18 L1144.09,1352.66 L1146.09,1357.72 L1148.09,1354.60 L1150.09,1355.54 L1152.09,1355.23 L1154.09,1353.38 L1156.09,1352.16 L1158.09,1353.20 L1160.09,1358.35 L1162.09,1354.41 L1164.09,1355.04 L1166.09,1353.86 L1168.09,1357.49 L1170.09,1357.20 L1172.09,1354.79 L1174.09,1355.72 L1176.09,1354.89 L1178.09,1356.24 L1180.09,1356.40 L1182.09,1356.29 L1184.09,1358.76 L1186.09,1359.13 L1188.09,1352.31 L1190.09,1354.81 L1192.09,1352.24 L1194.09,1354.78 L1196.09,1358.04 L1198.09,1357.11 L1200.09,1356.26 L1202.09,1352.61 L1204.09,1358.13 L1206.09,1356.62 L1208.09,1354.27 L1210.09,1357.95 L1212.09,1352.28 L1214.09,1353.41 L1216.09,1357.99 L1218.09,1352.35 L1220.09,1353.01 L1222.09,1355.82 L1224.09,1357.41 L1226.09,1356.50 L1228.09,1352.31 L1230.09,1354.12 L1232.09,1357.40 L1234.09,1354.69 L1236.09,1353.52 L1238.09,1352.07 L1240.09,1354.05 L1242.09,1359.13 L1244.09,1352.44 L1246.09,1356.27 L1248.09,1358.99 L1250.09,1357.40 L1252.09,1354.22 L1254.09,1357.02 L1256.09,1353.00 L1258.09,1355.89 L1260.09,1354.10 L1262.09,1358.76 L1264.09,1358.69 L1266.09,1357.91 L1268.09,1354.98 L1270.09,1358.18 L1272.09,1359.58 L1274.09,1354.94 L1276.09,1356.13 L1278.09,1353.38 L1280.09,1352.97 L1282.09,1357.63 L1284.09,1352.62 L1286.09,1356.73 L1288.09,1353.03 L1290.09,1357.26 L1292.09,1357.91 L1294.09,1359.34 L1296.09,1355.15 L1298.09,1355.15 L1300.09,1355.24 L1302.09,1357.57 L1304.09,1358.20 L1306.09,1353.09 L1308.09,1354.69 L1310.09,1352.64 L1312.09,1354.02 L1314.09,1357.81 L1316.09,1359.36 L1318.09,1359.70 L1320.09,1352.77 L1322.09,1355.31 L1324.09,1358.89 L1326.09,1356.10 L1328.09,1354.93 L1330.09,1358.22 L1332.09,1358.85 L1334.09,1353.40 L1336.09,1356.23 L1338.09,1353.42 L1340.09,1353.68 L1342.09,1356.35 L1344.09,1354.24 L1346.09,1358.44 L1348.09,1355.11 L1350.09,1353.72 L1352.09,1357.13 L1354.09,1354.34 L1356.09,1352.86 L1358.09,1359.96 L1360.09,1353.77 L1362.09,1353.37 L1364.09,1356.04 L1366.09,1352.42 L1368.09,1358.40 L1370.09,1352.98 L1372.09,1352.71 L1374.09,1359.76 L1376.09,1356.35 L1378.09,1359.49 L1380.09,1359.26 L1382.09,1358.03 L1384.09,1352.68 L1386.09,1357.35 L1388.09,1352.96 L1390.09,1352.56 L1392.09,1358.90 L1394.09,1354.83 L1396.09,1358.18 L1398.09,1356.54 L1400.09,1358.48 L1402.09,1357.39 L1404.09,1359.93 L1406.09,1356.15 L1408.09,1359.04 L1410.09,1358.81 L1412.09,1357.03 L1414.09,1356.43 L1416.09,1355.86 L1418.09,1357.51 L1420.09,1354.10 L1422.09,1355.95 L1424.09,1357.54 L1426.09,1354.97 L1428.09,1354.29 L1430.09,1353.46 L1432.09,1358.78 L1434.09,1359.33 L1436.09,1359.03 L1438.09,1358.07 L1440.09,1357.30 L1442.09,1353.16 L1444.09,1359.42 L1446.09,1356.34" stroke="#ff0000" stroke-width="5.5"/>
</g>
<line x1="478.4" y1="942.3" x2="385.2" y2="1058.2" stroke="#0000ff" stroke-width="4"/><path d="M359.4,1090.2 L371.8,1059.6 L385.2,1058.2 L386.8,1074.0 Z" fill="#0000ff"/><line x1="482.4" y1="1111.6" x2="387.6" y2="1228.6" stroke="#ff0000" stroke-width="4"/><path d="M360.2,1257.3 L375.3,1229.3 L387.6,1228.6 L387.4,1242.8 Z" fill="#ff0000"/>
<rect x="142.4" y="25.8" width="1308.4" height="1357.6" fill="none" stroke="#000" stroke-width="5.8"/>
<line x1="235.4" y1="1383" x2="235.4" y2="1405" stroke="#000" stroke-width="5"/><line x1="422.4" y1="1383" x2="422.4" y2="1395" stroke="#000" stroke-width="5"/><line x1="609.3" y1="1383" x2="609.3" y2="1405" stroke="#000" stroke-width="5"/><line x1="796.3" y1="1383" x2="796.3" y2="1395" stroke="#000" stroke-width="5"/><line x1="983.3" y1="1383" x2="983.3" y2="1405" stroke="#000" stroke-width="5"/><line x1="1170.2" y1="1383" x2="1170.2" y2="1395" stroke="#000" stroke-width="5"/><line x1="1357.2" y1="1383" x2="1357.2" y2="1405" stroke="#000" stroke-width="5"/>
<text transform="translate(183.41,1472.44) scale(0.9800,1.0120)" font-size="64" font-family="'Liberation Sans', sans-serif" font-weight="bold" fill="#000">350</text>
<text transform="translate(556.25,1472.14) scale(0.9800,1.0120)" font-size="64" font-family="'Liberation Sans', sans-serif" font-weight="bold" fill="#000">450</text>
<text transform="translate(931.26,1472.54) scale(0.9800,1.0120)" font-size="64" font-family="'Liberation Sans', sans-serif" font-weight="bold" fill="#000">550</text>
<text transform="translate(1304.81,1472.44) scale(0.9800,1.0120)" font-size="64" font-family="'Liberation Sans', sans-serif" font-weight="bold" fill="#000">650</text>
<text transform="translate(497.50,1576.03) scale(0.9901,0.9913)" font-size="75" font-family="'Liberation Sans', sans-serif" font-weight="bold" fill="#000">Wavelength (nm)</text>
<text transform="translate(87.90,956.29) rotate(-90) scale(0.9984,1.0308)" font-size="76" font-family="'Liberation Sans', sans-serif" font-weight="bold" fill="#000">PL intensity (a.u.)</text>
<text transform="translate(384.59,347.03) scale(1.0030,1.0041)" font-size="78" font-family="'Liberation Sans', sans-serif" font-weight="bold" fill="#000">(i)</text>
<text transform="translate(503.49,961.91) scale(1.0022,1.0053)" font-size="79" font-family="'Liberation Sans', sans-serif" font-weight="bold" fill="#0000ff">(ii)</text>
<text transform="translate(503.91,1127.81) scale(0.9982,0.9933)" font-size="79" font-family="'Liberation Sans', sans-serif" font-weight="bold" fill="#ff0000">(iii)</text>
<text transform="translate(757.50,522.06) scale(1.0000,0.9800)" font-size="64" font-family="'Liberation Sans', sans-serif" font-weight="bold" fill="#000">(i)</text>
<text transform="translate(870.01,523.00) scale(0.9959,1.0467)" font-size="64" font-family="'Liberation Sans', sans-serif" font-weight="bold" fill="#000">ZnO</text>
<text transform="translate(756.81,602.88) scale(0.9958,0.9783)" font-size="64" font-family="'Liberation Sans', sans-serif" font-weight="bold" fill="#0000ff">(ii)</text>
<text transform="translate(869.70,603.70) scale(1.0000,1.0244)" font-size="64" font-family="'Liberation Sans', sans-serif" font-weight="bold" fill="#0000ff">ZnO:N</text>
<text transform="translate(757.28,683.85) scale(0.9733,0.9733)" font-size="64" font-family="'Liberation Sans', sans-serif" font-weight="bold" fill="#ff0000">(iii)</text>
<text transform="translate(869.10,684.80) scale(1.0010,1.0378)" font-size="64" font-family="'Liberation Sans', sans-serif" font-weight="bold" fill="#ff0000">ZnO:Ga-N</text>
</g>
</svg>
</body></html>
